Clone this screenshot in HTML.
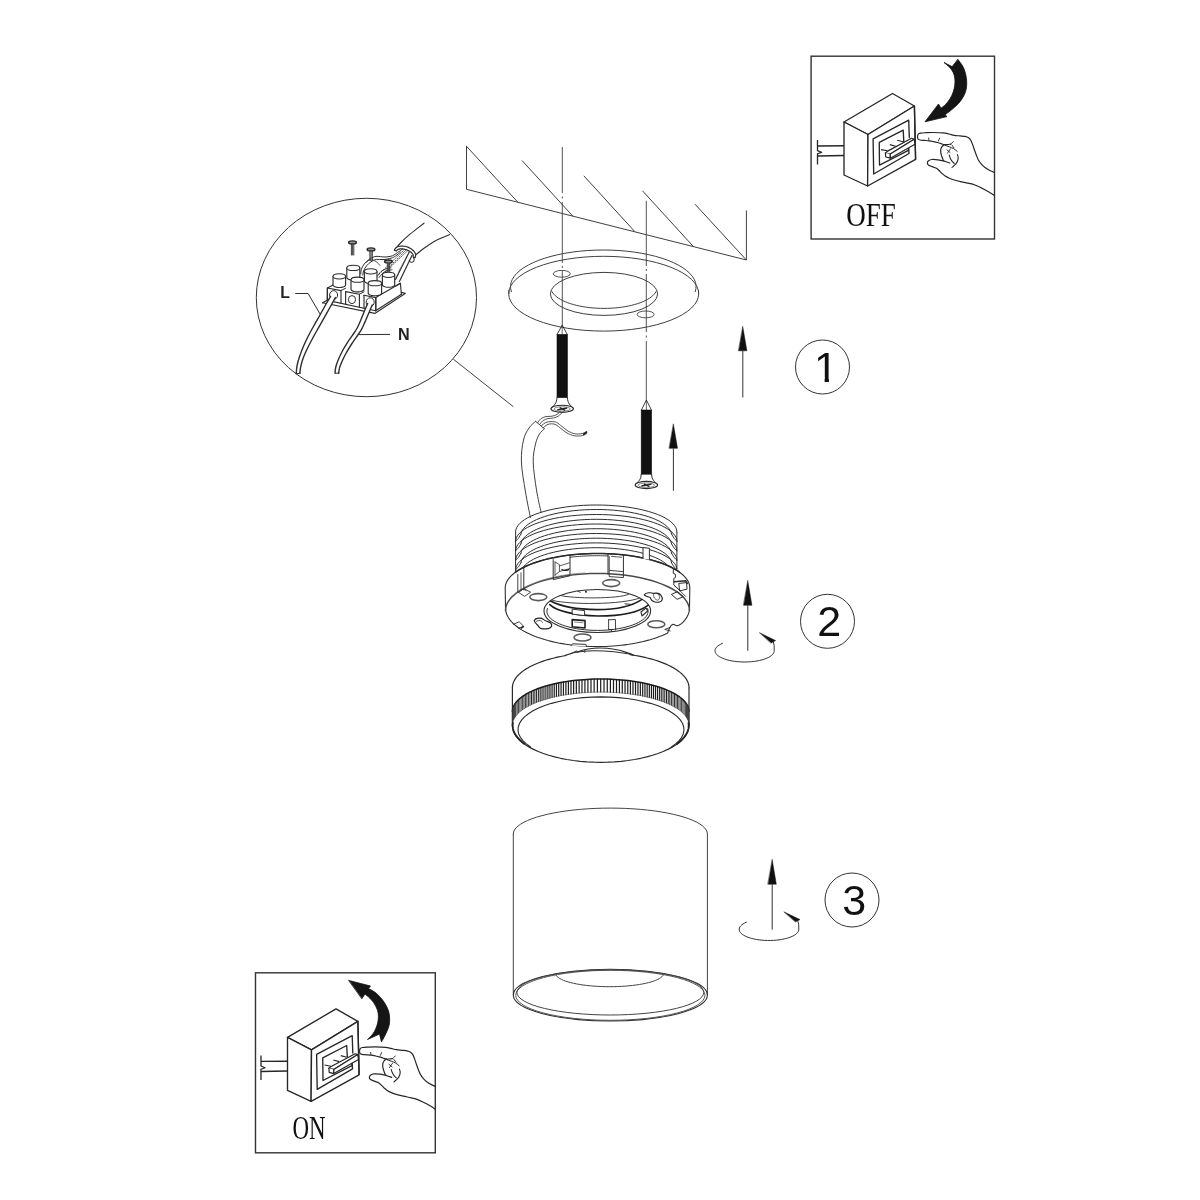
<!DOCTYPE html>
<html lang="en">
<head>
<meta charset="utf-8">
<title>Installation diagram</title>
<style>
html,body{margin:0;padding:0;background:#fff;}
body{width:1200px;height:1200px;overflow:hidden;font-family:"Liberation Sans",sans-serif;}
svg{display:block;will-change:transform;}
</style>
</head>
<body>
<svg width="1200" height="1200" viewBox="0 0 1200 1200">
<rect x="0" y="0" width="1200" height="1200" fill="#ffffff"/>
<path d="M466.5 146.3 L466.5 189.3 L746.4 260 L746.4 210.8" fill="none" stroke="#404040" stroke-width="1" stroke-linejoin="round" stroke-linecap="round" />
<line x1="466.5" y1="146.3" x2="518" y2="202.4" stroke="#404040" stroke-width="1" />
<line x1="522" y1="160.5" x2="572.7" y2="216" stroke="#404040" stroke-width="1" />
<line x1="583.8" y1="175.8" x2="634.6" y2="231.4" stroke="#404040" stroke-width="1" />
<line x1="642.5" y1="190.8" x2="693.5" y2="246.7" stroke="#404040" stroke-width="1" />
<line x1="695" y1="204.2" x2="746.4" y2="260" stroke="#404040" stroke-width="1" />
<line x1="562.3" y1="147" x2="562.3" y2="193" stroke="#404040" stroke-width="0.9" />
<line x1="562.3" y1="196.5" x2="562.3" y2="198.5" stroke="#404040" stroke-width="0.9" />
<line x1="562.3" y1="202" x2="562.3" y2="263" stroke="#404040" stroke-width="0.9" />
<line x1="562.3" y1="266" x2="562.3" y2="268" stroke="#404040" stroke-width="0.9" />
<line x1="562.3" y1="271" x2="562.3" y2="325" stroke="#404040" stroke-width="0.9" />
<line x1="646.3" y1="200.8" x2="646.3" y2="266" stroke="#404040" stroke-width="0.9" />
<line x1="646.3" y1="269" x2="646.3" y2="271" stroke="#404040" stroke-width="0.9" />
<line x1="646.3" y1="274" x2="646.3" y2="332" stroke="#404040" stroke-width="0.9" />
<line x1="646.3" y1="335.5" x2="646.3" y2="337.5" stroke="#404040" stroke-width="0.9" />
<line x1="646.3" y1="341" x2="646.3" y2="400" stroke="#404040" stroke-width="0.9" />
<path d="M511.4 291.69 L510.64 288.58 L510.55 285.45 L511.13 282.33 L512.4 279.24 L514.32 276.21 L516.9 273.25 L520.11 270.38 L523.92 267.64 L528.32 265.04 L533.26 262.59 L538.72 260.32 L544.65 258.24 L551 256.36 L557.74 254.71 L564.82 253.3 L572.17 252.12 L579.75 251.2 L587.5 250.53 L595.37 250.13 L603.3 250 L611.23 250.13 L619.1 250.53 L626.85 251.2 L634.43 252.12 L641.78 253.3 L648.86 254.71 L655.6 256.36 L661.95 258.24 L667.88 260.32 L673.34 262.59 L678.28 265.04 L682.68 267.64 L686.49 270.38 L689.7 273.25 L692.28 276.21 L694.2 279.24 L695.47 282.33 L696.05 285.45 L695.96 288.58 L695.2 291.69" fill="none" stroke="#404040" stroke-width="1" stroke-linejoin="round" stroke-linecap="round" />
<line x1="508.9" y1="290" x2="508.9" y2="294" stroke="#404040" stroke-width="1" />
<line x1="698.5" y1="290" x2="698.5" y2="294" stroke="#404040" stroke-width="1" />
<ellipse cx="603.7" cy="293.7" rx="95" ry="37.4" fill="none" stroke="#404040" stroke-width="1" />
<ellipse cx="604" cy="293.9" rx="53.6" ry="21.5" fill="none" stroke="#404040" stroke-width="1" />
<path d="M656.04 291.61 L655.16 293.01 L654.05 294.38 L652.71 295.72 L651.15 297.02 L649.36 298.28 L647.36 299.48 L645.17 300.63 L642.78 301.71 L640.21 302.73 L637.48 303.68 L634.59 304.54 L631.56 305.33 L628.4 306.04 L625.13 306.66 L621.76 307.18 L618.31 307.62 L614.79 307.96 L611.22 308.2 L607.62 308.35 L604 308.4 L600.38 308.35 L596.78 308.2 L593.21 307.96 L589.69 307.62 L586.24 307.18 L582.87 306.66 L579.6 306.04 L576.44 305.33 L573.41 304.54 L570.52 303.68 L567.79 302.73 L565.22 301.71 L562.83 300.63 L560.64 299.48 L558.64 298.28 L556.85 297.02 L555.29 295.72 L553.95 294.38 L552.84 293.01 L551.96 291.61" fill="none" stroke="#404040" stroke-width="1" stroke-linejoin="round" stroke-linecap="round" />
<ellipse cx="561.8" cy="273.8" rx="8.5" ry="3.4" fill="none" stroke="#404040" stroke-width="0.9" />
<ellipse cx="645.6" cy="314.4" rx="8.5" ry="3.4" fill="none" stroke="#404040" stroke-width="0.9" />
<path d="M557.2 334.4 L562.2 325 L567.2 334.4" fill="none" stroke="#2a2a2a" stroke-width="0.9" stroke-linejoin="round" stroke-linecap="round" />
<line x1="562.2" y1="325" x2="562.2" y2="334.4" stroke="#2a2a2a" stroke-width="0.7" />
<rect x="557" y="334.4" width="10.4" height="63.2" fill="#111" stroke="#111" stroke-width="0.6"/>
<path d="M557 397.6 C556.8 403.6 554.2 405.2 551 408.2" fill="none" stroke="#2a2a2a" stroke-width="1" stroke-linejoin="round" stroke-linecap="round" />
<path d="M567.4 397.6 C567.6 403.6 570.2 405.2 573.4 408.2" fill="none" stroke="#2a2a2a" stroke-width="1" stroke-linejoin="round" stroke-linecap="round" />
<ellipse cx="562.2" cy="408.8" rx="11.2" ry="3.6" fill="none" stroke="#2a2a2a" stroke-width="1.1" />
<ellipse cx="562.2" cy="409" rx="8.2" ry="2.2" fill="none" stroke="#555" stroke-width="0.7" />
<line x1="557.2" y1="409.8" x2="567.2" y2="408" stroke="#222" stroke-width="1.3" />
<line x1="559.7" y1="407.6" x2="565.2" y2="410.4" stroke="#222" stroke-width="1.3" />
<path d="M641.4 410 L646.4 400 L651.4 410" fill="none" stroke="#2a2a2a" stroke-width="0.9" stroke-linejoin="round" stroke-linecap="round" />
<line x1="646.4" y1="400" x2="646.4" y2="410" stroke="#2a2a2a" stroke-width="0.7" />
<rect x="641.2" y="410" width="10.4" height="64.2" fill="#111" stroke="#111" stroke-width="0.6"/>
<path d="M641.2 474.2 C641 480.2 638.4 481.4 635.2 484.4" fill="none" stroke="#2a2a2a" stroke-width="1" stroke-linejoin="round" stroke-linecap="round" />
<path d="M651.6 474.2 C651.8 480.2 654.4 481.4 657.6 484.4" fill="none" stroke="#2a2a2a" stroke-width="1" stroke-linejoin="round" stroke-linecap="round" />
<ellipse cx="646.4" cy="485" rx="11.2" ry="3.6" fill="none" stroke="#2a2a2a" stroke-width="1.1" />
<ellipse cx="646.4" cy="485.2" rx="8.2" ry="2.2" fill="none" stroke="#555" stroke-width="0.7" />
<line x1="641.4" y1="486" x2="651.4" y2="484.2" stroke="#222" stroke-width="1.3" />
<line x1="643.9" y1="483.8" x2="649.4" y2="486.6" stroke="#222" stroke-width="1.3" />
<path d="M742.8 326.7 L746.9 350.8 L738.7 350.8 Z" fill="#111" stroke="#111" stroke-width="0.5" stroke-linejoin="round" stroke-linecap="round" />
<line x1="742.8" y1="350.8" x2="742.8" y2="397.5" stroke="#333" stroke-width="1" />
<path d="M673.4 424.2 L677.5 448.3 L669.3 448.3 Z" fill="#111" stroke="#111" stroke-width="0.5" stroke-linejoin="round" stroke-linecap="round" />
<line x1="673.4" y1="448.3" x2="673.4" y2="490.8" stroke="#333" stroke-width="1" />
<path d="M530.4 517.5 C529.58 513.25 527 501.25 525.5 492 C524 482.75 521.73 470.67 521.4 462 C521.07 453.33 522.23 445.67 523.5 440 C524.77 434.33 526.98 431.12 529 428 C531.02 424.88 534.5 422.42 535.6 421.3" fill="none" stroke="#404040" stroke-width="1" stroke-linejoin="round" stroke-linecap="round" />
<path d="M541 512 C540.25 508.33 537.8 498.33 536.5 490 C535.2 481.67 533.37 469.67 533.2 462 C533.03 454.33 534.45 448.67 535.5 444 C536.55 439.33 538.02 436.53 539.5 434 C540.98 431.47 543.58 429.67 544.4 428.8" fill="none" stroke="#404040" stroke-width="1" stroke-linejoin="round" stroke-linecap="round" />
<line x1="535.6" y1="421.3" x2="544.4" y2="428.8" stroke="#404040" stroke-width="1" />
<path d="M537.5 422.8 C538.08 422.1 539.58 419.63 541 418.6 C542.42 417.57 544.17 417 546 416.6 C547.83 416.2 550.17 416.57 552 416.2 C553.83 415.83 555.58 415.27 557 414.4 C558.42 413.53 559.92 411.57 560.5 411" fill="none" stroke="#404040" stroke-width="0.9" stroke-linejoin="round" stroke-linecap="round" />
<path d="M539.6 424.6 C540.17 423.93 541.6 421.6 543 420.6 C544.4 419.6 546.25 419.03 548 418.6 C549.75 418.17 551.75 418.43 553.5 418 C555.25 417.57 556.98 417 558.5 416 C560.02 415 561.92 412.67 562.6 412" fill="none" stroke="#404040" stroke-width="0.9" stroke-linejoin="round" stroke-linecap="round" />
<path d="M541.3 426 C542 425.43 543.88 423.33 545.5 422.6 C547.12 421.87 549.17 421.63 551 421.6 C552.83 421.57 554.67 421.58 556.5 422.4 C558.33 423.22 560.08 425.07 562 426.5 C563.92 427.93 565.83 429.78 568 431 C570.17 432.22 572.67 433.37 575 433.8 C577.33 434.23 580.17 433.9 582 433.6 C583.83 433.3 585.33 432.27 586 432" fill="none" stroke="#404040" stroke-width="0.9" stroke-linejoin="round" stroke-linecap="round" />
<path d="M543.2 427.8 C543.83 427.3 545.62 425.47 547 424.8 C548.38 424.13 550 423.8 551.5 423.8 C553 423.8 554.42 424 556 424.8 C557.58 425.6 559.17 427.23 561 428.6 C562.83 429.97 564.75 431.8 567 433 C569.25 434.2 571.92 435.37 574.5 435.8 C577.08 436.23 580.48 436 582.5 435.6 C584.52 435.2 585.92 433.77 586.6 433.4" fill="none" stroke="#404040" stroke-width="0.9" stroke-linejoin="round" stroke-linecap="round" />
<line x1="583.2" y1="434.8" x2="587" y2="431.6" stroke="#222" stroke-width="1.8" />
<line x1="453.4" y1="359.2" x2="513.3" y2="406.7" stroke="#404040" stroke-width="1" />
<ellipse cx="366.4" cy="297.5" rx="110.1" ry="99.2" fill="none" stroke="#333" stroke-width="1" />
<path d="M394.4 250.4 C395.42 249.17 397.9 245.7 400.5 243 C403.1 240.3 406.08 237.5 410 234.2 C413.92 230.9 421.67 225.03 424 223.2" fill="none" stroke="#2e2e2e" stroke-width="1.1" stroke-linejoin="round" stroke-linecap="round" />
<path d="M416 254.6 C417.33 253.53 420.67 250.57 424 248.2 C427.33 245.83 431.73 242.67 436 240.4 C440.27 238.13 447.33 235.57 449.6 234.6" fill="none" stroke="#2e2e2e" stroke-width="1.1" stroke-linejoin="round" stroke-linecap="round" />
<g transform="translate(405 253.2) rotate(18)">
<path d="M-10.97 0.46 L-10.99 -0.29 L-10.86 -1.04 L-10.59 -1.77 L-10.19 -2.49 L-9.65 -3.17 L-8.99 -3.8 L-8.21 -4.39 L-7.32 -4.93 L-6.34 -5.39 L-5.28 -5.79 L-4.14 -6.11 L-2.96 -6.36 L-1.73 -6.52 L-0.49 -6.59 L0.77 -6.58 L2.01 -6.49 L3.23 -6.31 L4.4 -6.05 L5.52 -5.71 L6.57 -5.29 L7.53 -4.81 L8.39 -4.27 L9.15 -3.67 L9.78 -3.02 L10.29 -2.33 L10.67 -1.61 L10.9 -0.87 L11 -0.12 L10.95 0.63 L10.76 1.37 L8.75 1.05 L8.8 0.59 L8.75 0.13 L8.59 -0.32 L8.34 -0.77 L8 -1.19 L7.56 -1.6 L7.03 -1.98 L6.43 -2.34 L5.75 -2.66 L5.01 -2.94 L4.2 -3.18 L3.35 -3.38 L2.46 -3.53 L1.55 -3.63 L0.61 -3.69 L-0.33 -3.7 L-1.27 -3.66 L-2.19 -3.56 L-3.09 -3.43 L-3.95 -3.24 L-4.77 -3.01 L-5.53 -2.74 L-6.23 -2.44 L-6.86 -2.09 L-7.41 -1.72 L-7.87 -1.32 L-8.25 -0.9 L-8.53 -0.46 L-8.71 -0.01 L-8.79 0.45 Z" fill="#fff" stroke="#2e2e2e" stroke-width="1.2" stroke-linejoin="round" stroke-linecap="round" />
<path d="M9.6 1.6 q2.4 2.6 0.2 4.6 q-2 1.4 -3.4 -0.6" fill="none" stroke="#2e2e2e" stroke-width="1" stroke-linejoin="round" stroke-linecap="round" />
</g>
<path d="M403 248.8 C402.07 249.43 399.15 251.43 397.4 252.6 C395.65 253.77 394.57 255.07 392.5 255.8 C390.43 256.53 387.75 256.9 385 257 C382.25 257.1 378.58 256.03 376 256.4 C373.42 256.77 371.47 257.93 369.5 259.2 C367.53 260.47 365.57 262.28 364.2 264 C362.83 265.72 361.87 267.83 361.3 269.5 C360.73 271.17 360.88 273.25 360.8 274" fill="none" stroke="#2e2e2e" stroke-width="1" stroke-linejoin="round" stroke-linecap="round" />
<path d="M400.4 252.2 C399.6 252.83 397.13 255 395.6 256 C394.07 257 393.3 257.6 391.2 258.2 C389.1 258.8 385.47 259.4 383 259.6 C380.53 259.8 378.4 259.03 376.4 259.4 C374.4 259.77 372.63 260.73 371 261.8 C369.37 262.87 367.83 264.3 366.6 265.8 C365.37 267.3 364.23 269.27 363.6 270.8 C362.97 272.33 362.93 274.3 362.8 275" fill="none" stroke="#2e2e2e" stroke-width="1" stroke-linejoin="round" stroke-linecap="round" />
<path d="M366.5 262.6 C367.08 262.13 368.42 259.98 370 259.8 C371.58 259.62 374.33 260.55 376 261.5 C377.67 262.45 379.33 264.83 380 265.5" fill="none" stroke="#2e2e2e" stroke-width="0.8" stroke-linejoin="round" stroke-linecap="round" />
<line x1="403.4" y1="250.6" x2="378.6" y2="274.6" stroke="#2e2e2e" stroke-width="1" stroke-dasharray="1.6 1.1"/>
<line x1="405.6" y1="250.4" x2="384" y2="272.6" stroke="#2e2e2e" stroke-width="1" stroke-dasharray="1.6 1.1"/>
<line x1="407.6" y1="250.8" x2="391" y2="266.4" stroke="#2e2e2e" stroke-width="1" stroke-dasharray="1.6 1.1"/>
<line x1="409.6" y1="251.2" x2="395.2" y2="280" stroke="#2e2e2e" stroke-width="1.2" />
<line x1="412.2" y1="255" x2="399.2" y2="282" stroke="#2e2e2e" stroke-width="1.2" />
<line x1="406.2" y1="258" x2="398.6" y2="271.6" stroke="#555" stroke-width="0.6" />
<path d="M377.6 276 C378.17 275.25 379.6 272.7 381 271.5 C382.4 270.3 384.33 269.42 386 268.8 C387.67 268.18 390.17 267.97 391 267.8" fill="none" stroke="#2e2e2e" stroke-width="0.9" stroke-linejoin="round" stroke-linecap="round" />
<path d="M379 277.6 C379.57 276.9 381.07 274.53 382.4 273.4 C383.73 272.27 385.4 271.4 387 270.8 C388.6 270.2 391.17 269.97 392 269.8" fill="none" stroke="#2e2e2e" stroke-width="0.9" stroke-linejoin="round" stroke-linecap="round" />
<path d="M322.6 302.8 L327.2 300.2 L327.4 288 L335 284" fill="none" stroke="#2e2e2e" stroke-width="1.15" stroke-linejoin="round" stroke-linecap="round" />
<path d="M322.6 302.8 L374.8 313.4 L405.2 293.4 L401.4 292.4" fill="none" stroke="#2e2e2e" stroke-width="1.15" stroke-linejoin="round" stroke-linecap="round" />
<path d="M327.4 300.4 L375.6 310.8 L401.4 294.2" fill="none" stroke="#2e2e2e" stroke-width="1.15" stroke-linejoin="round" stroke-linecap="round" />
<path d="M327.4 288 L327.4 300.4" fill="none" stroke="#2e2e2e" stroke-width="1.15" stroke-linejoin="round" stroke-linecap="round" />
<path d="M327.4 288 L341 290.6 L341 303.2" fill="none" stroke="#2e2e2e" stroke-width="1.15" stroke-linejoin="round" stroke-linecap="round" />
<path d="M345.6 291.6 L345.6 304.2" fill="none" stroke="#2e2e2e" stroke-width="1.15" stroke-linejoin="round" stroke-linecap="round" />
<path d="M345.6 291.6 L359.4 294.2 L359.4 307.2" fill="none" stroke="#2e2e2e" stroke-width="1.15" stroke-linejoin="round" stroke-linecap="round" />
<path d="M364 295.2 L364 308.2" fill="none" stroke="#2e2e2e" stroke-width="1.15" stroke-linejoin="round" stroke-linecap="round" />
<path d="M364 295.2 L375.8 297.6 L375.8 310.8" fill="none" stroke="#2e2e2e" stroke-width="1.15" stroke-linejoin="round" stroke-linecap="round" />
<path d="M341 290.6 L345.6 288.2" fill="none" stroke="#2e2e2e" stroke-width="1" stroke-linejoin="round" stroke-linecap="round" />
<path d="M359.4 294.2 L364 291.8" fill="none" stroke="#2e2e2e" stroke-width="1" stroke-linejoin="round" stroke-linecap="round" />
<path d="M375.8 297.6 L400.4 283.2 L401.4 294.2" fill="none" stroke="#2e2e2e" stroke-width="1.15" stroke-linejoin="round" stroke-linecap="round" />
<path d="M375.8 310.8 L375.8 297.6" fill="none" stroke="#2e2e2e" stroke-width="1.15" stroke-linejoin="round" stroke-linecap="round" />
<line x1="395.4" y1="286.2" x2="400.4" y2="283.2" stroke="#2e2e2e" stroke-width="1.15" />
<path d="M335 284 L341.5 279" fill="none" stroke="#2e2e2e" stroke-width="0.8" stroke-linejoin="round" stroke-linecap="round" />
<path d="M346.8 267.9 L346.8 277.5 L346.8 277.5 L347.02 278.17 L347.67 278.8 L348.7 279.34 L350.05 279.75 L351.62 280.01 L353.3 280.1 L354.98 280.01 L356.55 279.75 L357.9 279.34 L358.93 278.8 L359.58 278.17 L359.8 277.5 L359.8 267.9 Z" fill="#fff" stroke="#2e2e2e" stroke-width="1.15" stroke-linejoin="round" stroke-linecap="round" />
<ellipse cx="353.3" cy="267.9" rx="6.5" ry="2.6" fill="#fff" stroke="#2e2e2e" stroke-width="1.05" />
<path d="M364.4 271.3 L364.4 281 L364.4 281 L364.61 281.67 L365.24 282.3 L366.25 282.84 L367.55 283.25 L369.07 283.51 L370.7 283.6 L372.33 283.51 L373.85 283.25 L375.15 282.84 L376.16 282.3 L376.79 281.67 L377 281 L377 271.3 Z" fill="#fff" stroke="#2e2e2e" stroke-width="1.15" stroke-linejoin="round" stroke-linecap="round" />
<ellipse cx="370.7" cy="271.3" rx="6.3" ry="2.6" fill="#fff" stroke="#2e2e2e" stroke-width="1.05" />
<path d="M382.4 274.8 L382.4 284.7 L382.4 284.7 L382.61 285.37 L383.22 286 L384.2 286.54 L385.47 286.95 L386.96 287.21 L388.55 287.3 L390.14 287.21 L391.62 286.95 L392.9 286.54 L393.88 286 L394.49 285.37 L394.7 284.7 L394.7 274.8 Z" fill="#fff" stroke="#2e2e2e" stroke-width="1.15" stroke-linejoin="round" stroke-linecap="round" />
<ellipse cx="388.55" cy="274.8" rx="6.15" ry="2.6" fill="#fff" stroke="#2e2e2e" stroke-width="1.05" />
<path d="M333 276.3 L333 284.9 L333 284.9 L333.21 285.57 L333.84 286.2 L334.85 286.74 L336.15 287.15 L337.67 287.41 L339.3 287.5 L340.93 287.41 L342.45 287.15 L343.75 286.74 L344.76 286.2 L345.39 285.57 L345.6 284.9 L345.6 276.3 Z" fill="#fff" stroke="#2e2e2e" stroke-width="1.15" stroke-linejoin="round" stroke-linecap="round" />
<ellipse cx="339.3" cy="276.3" rx="6.3" ry="2.6" fill="#fff" stroke="#2e2e2e" stroke-width="1.05" />
<path d="M351 279.7 L351 289.3 L351 289.3 L351.22 289.97 L351.87 290.6 L352.9 291.14 L354.25 291.55 L355.82 291.81 L357.5 291.9 L359.18 291.81 L360.75 291.55 L362.1 291.14 L363.13 290.6 L363.78 289.97 L364 289.3 L364 279.7 Z" fill="#fff" stroke="#2e2e2e" stroke-width="1.15" stroke-linejoin="round" stroke-linecap="round" />
<ellipse cx="357.5" cy="279.7" rx="6.5" ry="2.6" fill="#fff" stroke="#2e2e2e" stroke-width="1.05" />
<path d="M368.2 283.2 L368.2 293.1 L368.2 293.1 L368.43 293.77 L369.1 294.4 L370.16 294.94 L371.55 295.35 L373.17 295.61 L374.9 295.7 L376.63 295.61 L378.25 295.35 L379.64 294.94 L380.7 294.4 L381.37 293.77 L381.6 293.1 L381.6 283.2 Z" fill="#fff" stroke="#2e2e2e" stroke-width="1.15" stroke-linejoin="round" stroke-linecap="round" />
<ellipse cx="374.9" cy="283.2" rx="6.7" ry="2.6" fill="#fff" stroke="#2e2e2e" stroke-width="1.05" />
<ellipse cx="333.6" cy="295" rx="4" ry="4.4" fill="#fff" stroke="#2e2e2e" stroke-width="1" />
<ellipse cx="352" cy="299.6" rx="3.6" ry="4" fill="#fff" stroke="#2e2e2e" stroke-width="1" />
<ellipse cx="370.2" cy="302.2" rx="4" ry="4.4" fill="#fff" stroke="#2e2e2e" stroke-width="1" />
<ellipse cx="352.5" cy="242.4" rx="3.9" ry="1.6" fill="#999" stroke="#222" stroke-width="1.3" />
<line x1="351.4" y1="243.9" x2="351.4" y2="255.4" stroke="#222" stroke-width="0.9" />
<line x1="353.8" y1="243.9" x2="353.8" y2="255.4" stroke="#222" stroke-width="0.9" />
<line x1="352.5" y1="243.9" x2="352.5" y2="255.4" stroke="#555" stroke-width="1.3" />
<ellipse cx="371" cy="249.4" rx="3.9" ry="1.6" fill="#999" stroke="#222" stroke-width="1.3" />
<line x1="369.9" y1="250.9" x2="369.9" y2="261" stroke="#222" stroke-width="0.9" />
<line x1="372.3" y1="250.9" x2="372.3" y2="261" stroke="#222" stroke-width="0.9" />
<line x1="371" y1="250.9" x2="371" y2="261" stroke="#555" stroke-width="1.3" />
<ellipse cx="388.4" cy="261.6" rx="3.9" ry="1.6" fill="#999" stroke="#222" stroke-width="1.3" />
<line x1="387.3" y1="263.1" x2="387.3" y2="272" stroke="#222" stroke-width="0.9" />
<line x1="389.7" y1="263.1" x2="389.7" y2="272" stroke="#222" stroke-width="0.9" />
<line x1="388.4" y1="263.1" x2="388.4" y2="272" stroke="#555" stroke-width="1.3" />
<path d="M330.6 296.4 C329.75 297.83 327.27 301.9 325.5 305 C323.73 308.1 321.83 311.73 320 315 C318.17 318.27 316.37 321.27 314.5 324.6 C312.63 327.93 310.62 331.43 308.8 335 C306.98 338.57 305.17 342.33 303.6 346 C302.03 349.67 300.5 353.67 299.4 357 C298.3 360.33 297.53 363.2 297 366 C296.47 368.8 296.33 372.5 296.2 373.8 L299.8 373.2 C299.97 372.07 300.23 368.93 300.8 366.4 C301.37 363.87 302.07 361.07 303.2 358 C304.33 354.93 305.97 351.4 307.6 348 C309.23 344.6 311.17 341 313 337.6 C314.83 334.2 316.7 330.97 318.6 327.6 C320.5 324.23 322.47 320.83 324.4 317.4 C326.33 313.97 328.37 310.3 330.2 307 C332.03 303.7 334.53 299.17 335.4 297.6 Z" fill="#fff" stroke="#fff" stroke-width="0.1" stroke-linejoin="round" stroke-linecap="round" />
<path d="M330.6 296.4 C329.75 297.83 327.27 301.9 325.5 305 C323.73 308.1 321.83 311.73 320 315 C318.17 318.27 316.37 321.27 314.5 324.6 C312.63 327.93 310.62 331.43 308.8 335 C306.98 338.57 305.17 342.33 303.6 346 C302.03 349.67 300.5 353.67 299.4 357 C298.3 360.33 297.53 363.2 297 366 C296.47 368.8 296.33 372.5 296.2 373.8" fill="none" stroke="#2e2e2e" stroke-width="1.4" stroke-linejoin="round" stroke-linecap="round" />
<path d="M335.4 297.6 C334.53 299.17 332.03 303.7 330.2 307 C328.37 310.3 326.33 313.97 324.4 317.4 C322.47 320.83 320.5 324.23 318.6 327.6 C316.7 330.97 314.83 334.2 313 337.6 C311.17 341 309.23 344.6 307.6 348 C305.97 351.4 304.33 354.93 303.2 358 C302.07 361.07 301.37 363.87 300.8 366.4 C300.23 368.93 299.97 372.07 299.8 373.2" fill="none" stroke="#2e2e2e" stroke-width="1.4" stroke-linejoin="round" stroke-linecap="round" />
<line x1="296.2" y1="373.8" x2="300.6" y2="373.2" stroke="#2e2e2e" stroke-width="1" />
<path d="M367.6 303.6 C367 305 365.2 309.1 364 312 C362.8 314.9 361.53 318.33 360.4 321 C359.27 323.67 358.53 325.6 357.2 328 C355.87 330.4 354.03 332.97 352.4 335.4 C350.77 337.83 349.07 340 347.4 342.6 C345.73 345.2 343.93 348.1 342.4 351 C340.87 353.9 339.3 357.33 338.2 360 C337.1 362.67 336.33 364.8 335.8 367 C335.27 369.2 335.13 372.17 335 373.2 L338.6 373.2 C338.77 372.27 339 369.63 339.6 367.6 C340.2 365.57 341.1 363.43 342.2 361 C343.3 358.57 344.73 355.67 346.2 353 C347.67 350.33 349.33 347.6 351 345 C352.67 342.4 354.47 339.97 356.2 337.4 C357.93 334.83 359.97 332.1 361.4 329.6 C362.83 327.1 363.63 325 364.8 322.4 C365.97 319.8 367.17 316.9 368.4 314 C369.63 311.1 371.57 306.5 372.2 305 Z" fill="#fff" stroke="#fff" stroke-width="0.1" stroke-linejoin="round" stroke-linecap="round" />
<path d="M367.6 303.6 C367 305 365.2 309.1 364 312 C362.8 314.9 361.53 318.33 360.4 321 C359.27 323.67 358.53 325.6 357.2 328 C355.87 330.4 354.03 332.97 352.4 335.4 C350.77 337.83 349.07 340 347.4 342.6 C345.73 345.2 343.93 348.1 342.4 351 C340.87 353.9 339.3 357.33 338.2 360 C337.1 362.67 336.33 364.8 335.8 367 C335.27 369.2 335.13 372.17 335 373.2" fill="none" stroke="#2e2e2e" stroke-width="1.4" stroke-linejoin="round" stroke-linecap="round" />
<path d="M372.2 305 C371.57 306.5 369.63 311.1 368.4 314 C367.17 316.9 365.97 319.8 364.8 322.4 C363.63 325 362.83 327.1 361.4 329.6 C359.97 332.1 357.93 334.83 356.2 337.4 C354.47 339.97 352.67 342.4 351 345 C349.33 347.6 347.67 350.33 346.2 353 C344.73 355.67 343.3 358.57 342.2 361 C341.1 363.43 340.2 365.57 339.6 367.6 C339 369.63 338.77 372.27 338.6 373.2" fill="none" stroke="#2e2e2e" stroke-width="1.4" stroke-linejoin="round" stroke-linecap="round" />
<line x1="335" y1="373.2" x2="339.4" y2="373.2" stroke="#2e2e2e" stroke-width="1" />
<text x="280.3" y="298.2" font-family="'Liberation Sans', sans-serif" font-size="15.8" font-weight="bold" text-anchor="start" fill="#222" >L</text>
<path d="M295.6 293.5 L308.1 293.5 L320.4 314.6" fill="none" stroke="#2e2e2e" stroke-width="1" stroke-linejoin="round" stroke-linecap="round" />
<text x="398.1" y="340.3" font-family="'Liberation Sans', sans-serif" font-size="16.2" font-weight="bold" text-anchor="start" fill="#222" >N</text>
<line x1="358.8" y1="334.6" x2="390" y2="334.4" stroke="#2e2e2e" stroke-width="1" />
<path d="M515.6 532 L515.85 529.88 L516.59 527.78 L517.83 525.7 L519.55 523.66 L521.74 521.67 L524.39 519.74 L527.48 517.89 L531 516.13 L534.92 514.46 L539.22 512.91 L543.87 511.47 L548.85 510.16 L554.11 508.98 L559.64 507.94 L565.39 507.06 L571.33 506.32 L577.42 505.75 L583.63 505.33 L589.92 505.08 L596.25 505 L602.58 505.08 L608.87 505.33 L615.08 505.75 L621.17 506.32 L627.11 507.06 L632.86 507.94 L638.39 508.98 L643.65 510.16 L648.63 511.47 L653.28 512.91 L657.58 514.46 L661.5 516.13 L665.02 517.89 L668.11 519.74 L670.76 521.67 L672.95 523.66 L674.67 525.7 L675.91 527.78 L676.65 529.88 L676.9 532" fill="none" stroke="#2e2e2e" stroke-width="1" stroke-linejoin="round" stroke-linecap="round" />
<path d="M520.9 534.14 L521.42 532.17 L522.37 530.23 L523.74 528.31 L525.53 526.44 L527.73 524.61 L530.32 522.86 L533.3 521.17 L536.63 519.56 L540.31 518.05 L544.31 516.64 L548.61 515.34 L553.19 514.15 L558.01 513.09 L563.06 512.15 L568.29 511.35 L573.69 510.69 L579.21 510.17 L584.84 509.8 L590.53 509.57 L596.25 509.5 L601.97 509.57 L607.66 509.8 L613.29 510.17 L618.81 510.69 L624.21 511.35 L629.44 512.15 L634.49 513.09 L639.31 514.15 L643.89 515.34 L648.19 516.64 L652.19 518.05 L655.87 519.56 L659.2 521.17 L662.18 522.86 L664.77 524.61 L666.97 526.44 L668.76 528.31 L670.13 530.23 L671.08 532.17 L671.6 534.14" fill="none" stroke="#2e2e2e" stroke-width="1" stroke-linejoin="round" stroke-linecap="round" />
<path d="M520.91 534.14 Q518.6 539.1 515.9 541" fill="none" stroke="#2e2e2e" stroke-width="0.9" stroke-linejoin="round" stroke-linecap="round" />
<path d="M671.59 534.14 Q673.9 539.1 676.6 541" fill="none" stroke="#2e2e2e" stroke-width="0.9" stroke-linejoin="round" stroke-linecap="round" />
<path d="M515.6 541.5 L515.85 539.38 L516.59 537.28 L517.83 535.2 L519.55 533.16 L521.74 531.17 L524.39 529.24 L527.48 527.39 L531 525.63 L534.92 523.96 L539.22 522.41 L543.87 520.97 L548.85 519.66 L554.11 518.48 L559.64 517.44 L565.39 516.56 L571.33 515.82 L577.42 515.25 L583.63 514.83 L589.92 514.58 L596.25 514.5 L602.58 514.58 L608.87 514.83 L615.08 515.25 L621.17 515.82 L627.11 516.56 L632.86 517.44 L638.39 518.48 L643.65 519.66 L648.63 520.97 L653.28 522.41 L657.58 523.96 L661.5 525.63 L665.02 527.39 L668.11 529.24 L670.76 531.17 L672.95 533.16 L674.67 535.2 L675.91 537.28 L676.65 539.38 L676.9 541.5" fill="none" stroke="#2e2e2e" stroke-width="1" stroke-linejoin="round" stroke-linecap="round" />
<path d="M520.9 543.94 L521.42 541.97 L522.37 540.03 L523.74 538.11 L525.53 536.24 L527.73 534.41 L530.32 532.66 L533.3 530.97 L536.63 529.36 L540.31 527.85 L544.31 526.44 L548.61 525.14 L553.19 523.95 L558.01 522.89 L563.06 521.95 L568.29 521.15 L573.69 520.49 L579.21 519.97 L584.84 519.6 L590.53 519.37 L596.25 519.3 L601.97 519.37 L607.66 519.6 L613.29 519.97 L618.81 520.49 L624.21 521.15 L629.44 521.95 L634.49 522.89 L639.31 523.95 L643.89 525.14 L648.19 526.44 L652.19 527.85 L655.87 529.36 L659.2 530.97 L662.18 532.66 L664.77 534.41 L666.97 536.24 L668.76 538.11 L670.13 540.03 L671.08 541.97 L671.6 543.94" fill="none" stroke="#2e2e2e" stroke-width="1" stroke-linejoin="round" stroke-linecap="round" />
<path d="M520.91 543.94 Q518.6 548.9 515.9 550.5" fill="none" stroke="#2e2e2e" stroke-width="0.9" stroke-linejoin="round" stroke-linecap="round" />
<path d="M671.59 543.94 Q673.9 548.9 676.6 550.5" fill="none" stroke="#2e2e2e" stroke-width="0.9" stroke-linejoin="round" stroke-linecap="round" />
<path d="M515.6 551 L515.85 548.88 L516.59 546.78 L517.83 544.7 L519.55 542.66 L521.74 540.67 L524.39 538.74 L527.48 536.89 L531 535.13 L534.92 533.46 L539.22 531.91 L543.87 530.47 L548.85 529.16 L554.11 527.98 L559.64 526.94 L565.39 526.06 L571.33 525.32 L577.42 524.75 L583.63 524.33 L589.92 524.08 L596.25 524 L602.58 524.08 L608.87 524.33 L615.08 524.75 L621.17 525.32 L627.11 526.06 L632.86 526.94 L638.39 527.98 L643.65 529.16 L648.63 530.47 L653.28 531.91 L657.58 533.46 L661.5 535.13 L665.02 536.89 L668.11 538.74 L670.76 540.67 L672.95 542.66 L674.67 544.7 L675.91 546.78 L676.65 548.88 L676.9 551" fill="none" stroke="#2e2e2e" stroke-width="1" stroke-linejoin="round" stroke-linecap="round" />
<path d="M520.9 553.34 L521.42 551.37 L522.37 549.43 L523.74 547.51 L525.53 545.64 L527.73 543.81 L530.32 542.06 L533.3 540.37 L536.63 538.76 L540.31 537.25 L544.31 535.84 L548.61 534.54 L553.19 533.35 L558.01 532.29 L563.06 531.35 L568.29 530.55 L573.69 529.89 L579.21 529.37 L584.84 529 L590.53 528.77 L596.25 528.7 L601.97 528.77 L607.66 529 L613.29 529.37 L618.81 529.89 L624.21 530.55 L629.44 531.35 L634.49 532.29 L639.31 533.35 L643.89 534.54 L648.19 535.84 L652.19 537.25 L655.87 538.76 L659.2 540.37 L662.18 542.06 L664.77 543.81 L666.97 545.64 L668.76 547.51 L670.13 549.43 L671.08 551.37 L671.6 553.34" fill="none" stroke="#2e2e2e" stroke-width="1" stroke-linejoin="round" stroke-linecap="round" />
<path d="M520.91 553.34 Q518.6 558.3 515.9 560" fill="none" stroke="#2e2e2e" stroke-width="0.9" stroke-linejoin="round" stroke-linecap="round" />
<path d="M671.59 553.34 Q673.9 558.3 676.6 560" fill="none" stroke="#2e2e2e" stroke-width="0.9" stroke-linejoin="round" stroke-linecap="round" />
<path d="M515.6 560.5 L515.85 558.38 L516.59 556.28 L517.83 554.2 L519.55 552.16 L521.74 550.17 L524.39 548.24 L527.48 546.39 L531 544.63 L534.92 542.96 L539.22 541.41 L543.87 539.97 L548.85 538.66 L554.11 537.48 L559.64 536.44 L565.39 535.56 L571.33 534.82 L577.42 534.25 L583.63 533.83 L589.92 533.58 L596.25 533.5 L602.58 533.58 L608.87 533.83 L615.08 534.25 L621.17 534.82 L627.11 535.56 L632.86 536.44 L638.39 537.48 L643.65 538.66 L648.63 539.97 L653.28 541.41 L657.58 542.96 L661.5 544.63 L665.02 546.39 L668.11 548.24 L670.76 550.17 L672.95 552.16 L674.67 554.2 L675.91 556.28 L676.65 558.38 L676.9 560.5" fill="none" stroke="#2e2e2e" stroke-width="1" stroke-linejoin="round" stroke-linecap="round" />
<path d="M520.9 562.84 L521.42 560.87 L522.37 558.93 L523.74 557.01 L525.53 555.14 L527.73 553.31 L530.32 551.56 L533.3 549.87 L536.63 548.26 L540.31 546.75 L544.31 545.34 L548.61 544.04 L553.19 542.85 L558.01 541.79 L563.06 540.85 L568.29 540.05 L573.69 539.39 L579.21 538.87 L584.84 538.5 L590.53 538.27 L596.25 538.2 L601.97 538.27 L607.66 538.5 L613.29 538.87 L618.81 539.39 L624.21 540.05 L629.44 540.85 L634.49 541.79 L639.31 542.85 L643.89 544.04 L648.19 545.34 L652.19 546.75 L655.87 548.26 L659.2 549.87 L662.18 551.56 L664.77 553.31 L666.97 555.14 L668.76 557.01 L670.13 558.93 L671.08 560.87 L671.6 562.84" fill="none" stroke="#2e2e2e" stroke-width="1" stroke-linejoin="round" stroke-linecap="round" />
<path d="M520.91 562.84 Q518.6 567.8 515.9 569.4" fill="none" stroke="#2e2e2e" stroke-width="0.9" stroke-linejoin="round" stroke-linecap="round" />
<path d="M671.59 562.84 Q673.9 567.8 676.6 569.4" fill="none" stroke="#2e2e2e" stroke-width="0.9" stroke-linejoin="round" stroke-linecap="round" />
<path d="M515.6 569.9 L515.85 567.78 L516.59 565.68 L517.83 563.6 L519.55 561.56 L521.74 559.57 L524.39 557.64 L527.48 555.79 L531 554.03 L534.92 552.36 L539.22 550.81 L543.87 549.37 L548.85 548.06 L554.11 546.88 L559.64 545.84 L565.39 544.96 L571.33 544.22 L577.42 543.65 L583.63 543.23 L589.92 542.98 L596.25 542.9 L602.58 542.98 L608.87 543.23 L615.08 543.65 L621.17 544.22 L627.11 544.96 L632.86 545.84 L638.39 546.88 L643.65 548.06 L648.63 549.37 L653.28 550.81 L657.58 552.36 L661.5 554.03 L665.02 555.79 L668.11 557.64 L670.76 559.57 L672.95 561.56 L674.67 563.6 L675.91 565.68 L676.65 567.78 L676.9 569.9" fill="none" stroke="#2e2e2e" stroke-width="1" stroke-linejoin="round" stroke-linecap="round" />
<path d="M520.9 572.34 L521.42 570.37 L522.37 568.43 L523.74 566.51 L525.53 564.64 L527.73 562.81 L530.32 561.06 L533.3 559.37 L536.63 557.76 L540.31 556.25 L544.31 554.84 L548.61 553.54 L553.19 552.35 L558.01 551.29 L563.06 550.35 L568.29 549.55 L573.69 548.89 L579.21 548.37 L584.84 548 L590.53 547.77 L596.25 547.7 L601.97 547.77 L607.66 548 L613.29 548.37 L618.81 548.89 L624.21 549.55 L629.44 550.35 L634.49 551.29 L639.31 552.35 L643.89 553.54 L648.19 554.84 L652.19 556.25 L655.87 557.76 L659.2 559.37 L662.18 561.06 L664.77 562.81 L666.97 564.64 L668.76 566.51 L670.13 568.43 L671.08 570.37 L671.6 572.34" fill="none" stroke="#2e2e2e" stroke-width="1" stroke-linejoin="round" stroke-linecap="round" />
<path d="M520.91 572.34 Q518.6 577.3 515.9 578.9" fill="none" stroke="#2e2e2e" stroke-width="0.9" stroke-linejoin="round" stroke-linecap="round" />
<path d="M671.59 572.34 Q673.9 577.3 676.6 578.9" fill="none" stroke="#2e2e2e" stroke-width="0.9" stroke-linejoin="round" stroke-linecap="round" />
<line x1="515.6" y1="532" x2="515.6" y2="572" stroke="#2e2e2e" stroke-width="1" />
<line x1="676.9" y1="532" x2="676.9" y2="569" stroke="#2e2e2e" stroke-width="1" />
<path d="M505.2 588 L505.33 586.19 L505.71 584.39 L506.34 582.6 L507.22 580.83 L508.35 579.07 L509.72 577.34 L511.33 575.64 L513.18 573.97 L515.26 572.34 L517.57 570.75 L520.09 569.21 L522.83 567.72 L525.77 566.29 L528.91 564.91 L532.23 563.6 L535.74 562.36 L539.41 561.19 L543.25 560.09 L547.23 559.07 L551.35 558.12 L555.6 557.26 L559.96 556.48 L564.42 555.79 L568.98 555.19 L573.61 554.68 L578.31 554.25 L583.06 553.92 L587.85 553.69 L592.67 553.55 L597.5 553.5 L602.33 553.55 L607.15 553.69 L611.94 553.92 L616.69 554.25 L621.39 554.68 L626.02 555.19 L630.58 555.79 L635.04 556.48 L639.4 557.26 L643.65 558.12 L647.77 559.07 L651.75 560.09 L655.59 561.19 L659.26 562.36 L662.77 563.6 L666.09 564.91 L669.23 566.29 L672.17 567.72 L674.91 569.21 L677.43 570.75 L679.74 572.34 L681.82 573.97 L683.67 575.64 L685.28 577.34 L686.65 579.07 L687.78 580.83 L688.66 582.6 L689.29 584.39 L689.67 586.19 L689.8 588 L689.5 608 L689.5 608 L689.42 609.58 L689.19 611.16 L688.8 612.74 L688.26 614.3 L687.57 615.86 L686.73 617.4 L685.73 618.93 L684.59 620.44 L683.3 621.93 L681.87 623.39 L679.3 625 L676.7 625.7 L673.3 624.3 L671.3 625.3 L670 627.3 L668.2 631 L667.77 632.91 L665.12 634.18 L662.33 635.39 L659.43 636.54 L656.41 637.65 L653.27 638.7 L650.03 639.69 L646.69 640.62 L643.26 641.49 L639.74 642.29 L636.14 643.03 L632.47 643.7 L628.73 644.31 L624.93 644.84 L621.08 645.31 L617.18 645.71 L613.25 646.03 L609.29 646.28 L605.3 646.46 L601.3 646.57 L597.29 646.6 L593.29 646.56 L589.29 646.45 L585.3 646.26 L581.34 646 L577.41 645.67 L573.52 645.27 L569.68 644.79 L565.88 644.25 L562.15 643.64 L558.48 642.96 L554.89 642.21 L551.38 641.4 L547.96 640.53 L544.63 639.59 L541.4 638.59 L538.28 637.54 L535.27 636.43 L532.37 635.26 L529.6 634.05 L526.96 632.78 L524.46 631.47 L522.09 630.11 L519.87 628.71 L517.79 627.27 L515.87 625.8 L514.1 624.29 L512.48 622.75 L511.03 621.18 L509.75 619.59 L508.63 617.98 L507.67 616.34 L506.89 614.69 L506.28 613.03 L505.85 611.36 L505.59 609.68 L505.5 608 Z" fill="#fff" stroke="#2e2e2e" stroke-width="1.1" stroke-linejoin="round" stroke-linecap="round" />
<path d="M515.26 572.34 L517.69 570.67 L520.35 569.06 L523.26 567.5 L526.38 566.01 L529.72 564.58 L533.27 563.22 L537.01 561.94 L540.93 560.74 L545.02 559.62 L549.27 558.58 L553.67 557.64 L558.2 556.78 L562.85 556.02 L567.6 555.36 L572.45 554.8 L577.37 554.33 L582.35 553.97 L587.37 553.71 L592.43 553.55 L597.5 553.5 L602.57 553.55 L607.63 553.71 L612.65 553.97 L617.63 554.33 L622.55 554.8 L627.4 555.36 L632.15 556.02 L636.8 556.78 L641.33 557.64 L645.73 558.58 L649.98 559.62 L654.07 560.74 L657.99 561.94 L661.73 563.22 L665.28 564.58 L668.62 566.01 L671.74 567.5 L674.65 569.06 L677.31 570.67 L679.74 572.34" fill="none" stroke="#2a2a2a" stroke-width="1.5" stroke-linejoin="round" stroke-linecap="round" />
<path d="M505.5 610.5 L505.78 607.6 L506.63 604.71 L508.04 601.86 L510 599.07 L512.5 596.34 L515.53 593.7 L519.06 591.17 L523.07 588.75 L527.54 586.47 L532.45 584.34 L537.75 582.36 L543.42 580.57 L549.43 578.95 L555.73 577.53 L562.29 576.32 L569.07 575.31 L576.02 574.52 L583.11 573.96 L590.28 573.61 L597.5 573.5 L604.72 573.61 L611.89 573.96 L618.98 574.52 L625.93 575.31 L632.71 576.32 L639.27 577.53 L645.57 578.95 L651.58 580.57 L657.25 582.36 L662.55 584.34 L667.46 586.47 L671.93 588.75 L675.94 591.17 L679.47 593.7 L682.5 596.34 L685 599.07 L686.96 601.86 L688.37 604.71 L689.22 607.6 L689.5 610.5" fill="none" stroke="#4a4a4a" stroke-width="1.5" stroke-linejoin="round" stroke-linecap="round" />
<path d="M515.03 593.79 L516.01 592.97 L517.04 592.16 L518.12 591.35 L519.25 590.56 L520.43 589.78 L521.66 589.02 L522.93 588.26 L524.25 587.52 L525.62 586.79 L527.03 586.08 L528.48 585.38 L529.98 584.7 L531.52 584.03 L533.1 583.37 L534.72 582.73 L536.37 582.11 L538.07 581.51 L539.8 580.92 L541.57 580.35 L543.37 579.8 L545.21 579.26 L547.08 578.75 L548.97 578.25 L550.9 577.78 L552.86 577.32 L554.85 576.88 L556.86 576.46 L558.9 576.07 L560.96 575.69 L563.04 575.33 L565.15 575 L567.27 574.68 L569.42 574.39 L571.58 574.12 L573.76 573.87 L575.95 573.64 L578.15 573.44 L580.37 573.26 L582.6 573.1 L584.84 572.96" fill="none" stroke="#777" stroke-width="0.7" stroke-linejoin="round" stroke-linecap="round" />
<path d="M570 557.27 L571.9 557.05 L573.8 556.86 L575.7 556.68 L577.6 556.51 L579.5 556.36 L581.4 556.23 L583.3 556.11 L585.2 556.01 L587.1 555.92 L589 555.85 L590.9 555.79 L592.8 555.74 L594.7 555.72 L596.6 555.7 L598.5 555.7 L600.4 555.72 L602.3 555.75 L604.2 555.79 L606.1 555.85 L608 555.92" fill="none" stroke="#2e2e2e" stroke-width="0.9" stroke-linejoin="round" stroke-linecap="round" />
<line x1="570" y1="555.07" x2="570" y2="575.79" stroke="#2e2e2e" stroke-width="1" />
<line x1="608" y1="553.72" x2="608" y2="574.34" stroke="#2e2e2e" stroke-width="1" />
<line x1="623.4" y1="554.89" x2="623.4" y2="577.6" stroke="#2e2e2e" stroke-width="1" />
<line x1="609.2" y1="576.59" x2="623.4" y2="577.6" stroke="#2e2e2e" stroke-width="0.9" />
<line x1="609.2" y1="570.39" x2="623.4" y2="571.6" stroke="#2e2e2e" stroke-width="0.9" />
<line x1="609.2" y1="556.17" x2="609.2" y2="576.59" stroke="#2e2e2e" stroke-width="0.9" />
<line x1="611" y1="556.27" x2="622" y2="557.34" stroke="#2e2e2e" stroke-width="0.8" />
<line x1="553.2" y1="559.23" x2="553.2" y2="579.67" stroke="#2e2e2e" stroke-width="1" />
<line x1="553.2" y1="579.67" x2="570" y2="575.79" stroke="#2e2e2e" stroke-width="0.9" />
<path d="M555 562 L555 575.6" fill="none" stroke="#2e2e2e" stroke-width="0.8" stroke-linejoin="round" stroke-linecap="round" />
<path d="M555 562 L559.4 564.6 L559.4 571.6 L555 575" fill="none" stroke="#2e2e2e" stroke-width="0.8" stroke-linejoin="round" stroke-linecap="round" />
<path d="M559.4 566 L569.4 562.8" fill="none" stroke="#2e2e2e" stroke-width="0.8" stroke-linejoin="round" stroke-linecap="round" />
<path d="M559.4 571.6 L569.6 568.6" fill="none" stroke="#2e2e2e" stroke-width="0.8" stroke-linejoin="round" stroke-linecap="round" />
<path d="M562 569.4 q2.4 2 6.6 0.2" fill="none" stroke="#222" stroke-width="1.3" stroke-linejoin="round" stroke-linecap="round" />
<line x1="523.8" y1="567.83" x2="523.8" y2="590.4" stroke="#2e2e2e" stroke-width="1" />
<line x1="517.8" y1="574" x2="517.8" y2="592" stroke="#2e2e2e" stroke-width="0.9" />
<line x1="521" y1="572.4" x2="521" y2="590.4" stroke="#2e2e2e" stroke-width="0.8" />
<path d="M518.6 592.4 L523.8 588.6 L530.6 592.2 L524.6 596.4 L518.6 592.4" fill="none" stroke="#2e2e2e" stroke-width="0.9" stroke-linejoin="round" stroke-linecap="round" />
<line x1="523.8" y1="588.6" x2="526.4" y2="591.2" stroke="#2e2e2e" stroke-width="0.8" />
<path d="M643 558.38 L643 547.6 L649.4 548.2 L649.4 559.87" fill="#fff" stroke="#2e2e2e" stroke-width="1" stroke-linejoin="round" stroke-linecap="round" />
<path d="M673.3 568.8 L673.3 573.4 L675.4 574.2 L675.4 577.6 L673.8 578.4 L673.8 585 L677.6 588.4" fill="none" stroke="#2e2e2e" stroke-width="1" stroke-linejoin="round" stroke-linecap="round" />
<path d="M674.2 581.7 L685.8 580.8 L687.4 583.4" fill="none" stroke="#2a2a2a" stroke-width="1.4" stroke-linejoin="round" stroke-linecap="round" />
<path d="M679.2 583.4 L686.6 582.6 L687 589.2 L680 590.8 Z" fill="none" stroke="#2e2e2e" stroke-width="1" stroke-linejoin="round" stroke-linecap="round" />
<line x1="673.8" y1="585" x2="680" y2="590.8" stroke="#2e2e2e" stroke-width="0.9" />
<line x1="677.6" y1="588.4" x2="685.8" y2="596.6" stroke="#2e2e2e" stroke-width="0.9" />
<path d="M671.7 594.2 L677.5 591.7 L683.3 596.7 L677.5 599.2 Z" fill="none" stroke="#2e2e2e" stroke-width="1" stroke-linejoin="round" stroke-linecap="round" />
<path d="M513.6 624.2 L519.2 621.8 L523.8 626.4 L518.6 628.2" fill="none" stroke="#2e2e2e" stroke-width="0.9" stroke-linejoin="round" stroke-linecap="round" />
<line x1="520.8" y1="628.4" x2="523.8" y2="626.4" stroke="#222" stroke-width="1.5" />
<path d="M670 627.4 L664.8 629.4 L670.2 631" fill="none" stroke="#2e2e2e" stroke-width="0.9" stroke-linejoin="round" stroke-linecap="round" />
<path d="M571.2 645.6 L572.6 643.8 L585.8 644.4 L586.6 646.6" fill="#fff" stroke="#2e2e2e" stroke-width="1" stroke-linejoin="round" stroke-linecap="round" />
<ellipse cx="611.2" cy="583.1" rx="8.5" ry="3.5" fill="none" stroke="#5a5a5a" stroke-width="1.6" />
<ellipse cx="538.3" cy="597.1" rx="8.5" ry="3.5" fill="none" stroke="#5a5a5a" stroke-width="1.6" />
<ellipse cx="582.5" cy="637.5" rx="8.5" ry="3.5" fill="none" stroke="#5a5a5a" stroke-width="1.6" />
<ellipse cx="656.3" cy="624.3" rx="8.5" ry="3.5" fill="none" stroke="#5a5a5a" stroke-width="1.6" />
<path d="M534.2 620.6 C535.6 617.6 541.4 617.6 543.4 619.4 C545.8 621.6 548.8 621.6 550.6 623 C552.8 625 551.8 628 548.2 628.6 C544.6 629.2 539.6 628.8 538.4 626.2 C537.6 624.4 535.6 624.2 534.2 620.6 Z" fill="none" stroke="#222" stroke-width="1.2" stroke-linejoin="round" stroke-linecap="round" />
<path d="M536.4 621.4 C538.4 619.8 541.6 620.2 542.4 622.2" fill="none" stroke="#2e2e2e" stroke-width="0.8" stroke-linejoin="round" stroke-linecap="round" />
<path d="M644.2 594.8 C646 592.6 650.6 592.2 653.6 593.4 C657.2 592.6 660.6 593.8 662 597.2 C663.4 600.4 660.4 602.6 656.4 602.2 C652.4 601.8 650.8 599.6 650.2 597.4 C648.4 596.8 645.6 596.6 644.2 594.8 Z" fill="none" stroke="#222" stroke-width="1.1" stroke-linejoin="round" stroke-linecap="round" />
<path d="M653.8 593.6 C652.8 596.2 654.4 599.4 657.4 600.2" fill="none" stroke="#2e2e2e" stroke-width="0.8" stroke-linejoin="round" stroke-linecap="round" />
<path d="M657 593.6 C660.2 594.4 660.6 598.6 658.2 600" fill="none" stroke="#2e2e2e" stroke-width="0.8" stroke-linejoin="round" stroke-linecap="round" />
<clipPath id="holeclip"><ellipse cx="597.3" cy="611" rx="53.3" ry="21.5"/></clipPath>
<ellipse cx="597.3" cy="611" rx="53.3" ry="21.5" fill="#fff" stroke="#2e2e2e" stroke-width="1.1" />
<g clip-path="url(#holeclip)">
<path d="M560 595.4 C573 598.8 618 599 628.4 594.4" fill="none" stroke="#2e2e2e" stroke-width="0.9" stroke-linejoin="round" stroke-linecap="round" />
<path d="M552.6 600.4 C570 604.8 622 605 640.4 597.8" fill="none" stroke="#2e2e2e" stroke-width="0.9" stroke-linejoin="round" stroke-linecap="round" />
<path d="M550.6 601 C560 606 575 609.4 597 609.6 C618 609.6 633 605.6 642 599.4" fill="none" stroke="#1c1c1c" stroke-width="1.6" stroke-linejoin="round" stroke-linecap="round" />
<path d="M549.8 604.6 C556 610.6 574 615.6 598 616 C622 616 640 611.6 648.6 604.8" fill="none" stroke="#1c1c1c" stroke-width="1.6" stroke-linejoin="round" stroke-linecap="round" />
<path d="M647.61 608.53 L648.03 610.16 L648.08 611.8 L647.75 613.44 L647.07 615.06 L646.02 616.65 L644.61 618.21 L642.86 619.71 L640.78 621.15 L638.38 622.51 L635.69 623.8 L632.71 624.99 L629.48 626.08 L626.01 627.06 L622.34 627.93 L618.48 628.67 L614.47 629.29 L610.34 629.77 L606.11 630.12 L601.82 630.33 L597.5 630.4 L593.18 630.33 L588.89 630.12 L584.66 629.77 L580.53 629.29 L576.52 628.67 L572.66 627.93 L568.99 627.06 L565.52 626.08 L562.29 624.99 L559.31 623.8 L556.62 622.51 L554.22 621.15 L552.14 619.71 L550.39 618.21 L548.98 616.65 L547.93 615.06 L547.25 613.44 L546.92 611.8 L546.97 610.16 L547.39 608.53" fill="none" stroke="#2e2e2e" stroke-width="1" stroke-linejoin="round" stroke-linecap="round" />
</g>
<path d="M572.5 609.2 L584.6 610.6 L584.6 615.6 L572.5 614.2 Z" fill="#fff" stroke="#2e2e2e" stroke-width="1" stroke-linejoin="round" stroke-linecap="round" />
<path d="M572.2 619.6 L585 620.6 L585 628 L572.2 626.8 Z" fill="#fff" stroke="#222" stroke-width="1.6" stroke-linejoin="round" stroke-linecap="round" />
<line x1="574" y1="622" x2="583.4" y2="622.8" stroke="#666" stroke-width="0.8" />
<path d="M608.6 619.8 L608.6 629.6" fill="none" stroke="#2e2e2e" stroke-width="0.9" stroke-linejoin="round" stroke-linecap="round" />
<path d="M608.6 619.8 L615.4 619.4 L615.6 630" fill="none" stroke="#2e2e2e" stroke-width="0.9" stroke-linejoin="round" stroke-linecap="round" />
<path d="M608.6 629.6 L611.4 629.4 L611.4 631.4" fill="none" stroke="#2e2e2e" stroke-width="0.9" stroke-linejoin="round" stroke-linecap="round" />
<path d="M641 612 L646 608 L647.6 611 L642 616 L641 612" fill="none" stroke="#2e2e2e" stroke-width="1.1" stroke-linejoin="round" stroke-linecap="round" />
<line x1="624.6" y1="603.8" x2="631" y2="604.4" stroke="#2e2e2e" stroke-width="1" />
<line x1="577.6" y1="591.2" x2="580.6" y2="592.4" stroke="#2e2e2e" stroke-width="0.9" />
<line x1="585.6" y1="590.8" x2="586.4" y2="592.6" stroke="#222" stroke-width="1.6" />
<path d="M512.4 687.7 L512.44 686.68 L512.55 685.67 L512.73 684.66 L512.99 683.65 L513.33 682.64 L513.73 681.64 L514.22 680.64 L514.77 679.65 L515.39 678.66 L516.09 677.69 L516.86 676.72 L517.7 675.76 L518.61 674.81 L519.59 673.87 L520.63 672.94 L521.75 672.03 L522.93 671.13 L524.17 670.24 L525.48 669.37 L526.86 668.51 L528.29 667.67 L529.79 666.84 L531.34 666.04 L532.96 665.25 L534.63 664.48 L536.36 663.73 L538.14 663 L539.97 662.29 L541.86 661.6 L543.79 660.94 L545.78 660.29 L547.81 659.67 L549.88 659.08 L552 658.51 L554.15 657.96 L556.35 657.44 L558.58 656.94 L560.85 656.47 L563.16 656.02 L565.49 655.6" fill="none" stroke="#2a2a2a" stroke-width="1.2" stroke-linejoin="round" stroke-linecap="round" />
<path d="M630.18 654.71 L632.72 655.08 L635.24 655.49 L637.72 655.92 L640.17 656.39 L642.58 656.89 L644.95 657.41 L647.28 657.97 L649.56 658.55 L651.8 659.16 L653.99 659.79 L656.13 660.46 L658.22 661.15 L660.26 661.86 L662.23 662.6 L664.15 663.36 L666.01 664.14 L667.81 664.95 L669.54 665.78 L671.21 666.63 L672.81 667.5 L674.34 668.39 L675.81 669.3 L677.2 670.22 L678.52 671.16 L679.77 672.12 L680.94 673.09 L682.03 674.07 L683.05 675.07 L683.99 676.08 L684.86 677.1 L685.64 678.13 L686.34 679.17 L686.96 680.22 L687.5 681.28 L687.96 682.34 L688.33 683.4 L688.62 684.47 L688.83 685.55 L688.96 686.62 L689 687.7" fill="none" stroke="#2a2a2a" stroke-width="1.2" stroke-linejoin="round" stroke-linecap="round" />
<path d="M565.4 655.4 C570 653.6 573 652.6 577 652 C584 649.4 592 648 600 648 C610 648 620 650 627 652.6 C629.4 653.4 631 653.8 633.4 655" fill="none" stroke="#2a2a2a" stroke-width="1.2" stroke-linejoin="round" stroke-linecap="round" />
<path d="M576.8 652.2 L584.6 651.2 C596 650.2 612 651 623 653 C626 653.6 628.6 653.8 631 654.2" fill="none" stroke="#2a2a2a" stroke-width="1" stroke-linejoin="round" stroke-linecap="round" />
<line x1="584.8" y1="649.8" x2="584.8" y2="652.8" stroke="#2a2a2a" stroke-width="0.9" />
<path d="M570.6 653.8 L576.6 650.8 L577.8 652.4" fill="none" stroke="#2a2a2a" stroke-width="0.9" stroke-linejoin="round" stroke-linecap="round" />
<line x1="512.4" y1="687.7" x2="512.4" y2="726" stroke="#2a2a2a" stroke-width="1.2" />
<line x1="689" y1="687.7" x2="689" y2="726" stroke="#2a2a2a" stroke-width="1.2" />
<path d="M685.38 702.29L685.38 715.65 M516.02 702.29L516.02 715.65 M686.59 703.96L686.59 717.35 M514.81 703.96L514.81 717.35 M687.77 706.1L687.77 719.52 M513.63 706.1L513.63 719.52" fill="none" stroke="#1c1c1c" stroke-width="0.7" stroke-linejoin="round" stroke-linecap="round" stroke-linecap="butt"/>
<path d="M678.85 696.37L678.85 709.64 M522.55 696.37L522.55 709.64 M680.22 697.37L680.22 710.66 M521.18 697.37L521.18 710.66 M681.56 698.45L681.56 711.74 M519.84 698.45L519.84 711.74 M682.87 699.6L682.87 712.92 M518.53 699.6L518.53 712.92 M684.14 700.87L684.14 714.2 M517.26 700.87L517.26 714.2" fill="none" stroke="#1c1c1c" stroke-width="0.8" stroke-linejoin="round" stroke-linecap="round" stroke-linecap="butt"/>
<path d="M671.44 692.05L671.44 705.25 M529.96 692.05L529.96 705.25 M673 692.84L673 706.06 M528.4 692.84L528.4 706.06 M674.52 693.67L674.52 706.89 M526.88 693.67L526.88 706.89 M676 694.53L676 707.76 M525.4 694.53L525.4 707.76 M677.44 695.43L677.44 708.68 M523.96 695.43L523.96 708.68" fill="none" stroke="#1c1c1c" stroke-width="0.9" stroke-linejoin="round" stroke-linecap="round" stroke-linecap="butt"/>
<path d="M663.04 688.48L663.04 701.63 M538.36 688.48L538.36 701.63 M664.8 689.15L664.8 702.31 M536.6 689.15L536.6 702.31 M666.53 689.84L666.53 703.01 M534.87 689.84L534.87 703.01 M668.21 690.55L668.21 703.73 M533.19 690.55L533.19 703.73 M669.85 691.29L669.85 704.48 M531.55 691.29L531.55 704.48" fill="none" stroke="#1c1c1c" stroke-width="1" stroke-linejoin="round" stroke-linecap="round" stroke-linecap="butt"/>
<path d="M655.51 686.02L655.51 699.13 M545.89 686.02L545.89 699.13 M657.46 686.6L657.46 699.72 M543.94 686.6L543.94 699.72 M659.37 687.21L659.37 700.34 M542.03 687.21L542.03 700.34 M661.23 687.84L661.23 700.97 M540.17 687.84L540.17 700.97" fill="none" stroke="#1c1c1c" stroke-width="1.1" stroke-linejoin="round" stroke-linecap="round" stroke-linecap="butt"/>
<path d="M600.7 679L600.7 692 M604.02 679.02L604.02 692.02 M597.38 679.02L597.38 692.02 M607.26 679.09L607.26 692.09 M594.14 679.09L594.14 692.09 M610.41 679.2L610.41 692.2 M590.99 679.2L590.99 692.2 M613.49 679.34L613.49 692.35 M587.91 679.34L587.91 692.35 M616.49 679.52L616.49 692.53 M584.91 679.52L584.91 692.53 M619.42 679.74L619.42 692.75 M581.98 679.74L581.98 692.75 M622.27 679.98L622.27 693 M579.13 679.98L579.13 693 M625.06 680.26L625.06 693.28 M576.34 680.26L576.34 693.28 M627.77 680.56L627.77 693.59 M573.63 680.56L573.63 693.59 M630.41 680.9L630.41 693.92 M570.99 680.9L570.99 693.92 M632.99 681.25L632.99 694.29 M568.41 681.25L568.41 694.29 M635.51 681.63L635.51 694.67 M565.89 681.63L565.89 694.67 M637.96 682.04L637.96 695.08 M563.44 682.04L563.44 695.08 M640.35 682.46L640.35 695.51 M561.05 682.46L561.05 695.51 M642.69 682.91L642.69 695.97 M558.71 682.91L558.71 695.97 M644.96 683.38L644.96 696.44 M556.44 683.38L556.44 696.44 M647.18 683.87L647.18 696.94 M554.22 683.87L554.22 696.94 M649.34 684.38L649.34 697.46 M552.06 684.38L552.06 697.46 M651.45 684.9L651.45 697.99 M549.95 684.9L549.95 697.99 M653.5 685.45L653.5 698.55 M547.9 685.45L547.9 698.55" fill="none" stroke="#1c1c1c" stroke-width="1.2" stroke-linejoin="round" stroke-linecap="round" stroke-linecap="butt"/>
<path d="M512.4 711.5 L512.67 708.95 L513.49 706.42 L514.84 703.91 L516.72 701.46 L519.12 699.06 L522.02 696.75 L525.41 694.52 L529.26 692.4 L533.56 690.39 L538.26 688.52 L543.35 686.79 L548.8 685.21 L554.56 683.79 L560.61 682.54 L566.91 681.47 L573.41 680.59 L580.09 679.9 L586.89 679.4 L593.77 679.1 L600.7 679 L607.63 679.1 L614.51 679.4 L621.31 679.9 L627.99 680.59 L634.49 681.47 L640.79 682.54 L646.84 683.79 L652.6 685.21 L658.05 686.79 L663.14 688.52 L667.84 690.39 L672.14 692.4 L675.99 694.52 L679.38 696.75 L682.28 699.06 L684.68 701.46 L686.56 703.91 L687.91 706.42 L688.73 708.95 L689 711.5" fill="none" stroke="#1c1c1c" stroke-width="1.5" stroke-linejoin="round" stroke-linecap="round" />
<path d="M512.4 725 L512.67 722.41 L513.49 719.84 L514.84 717.3 L516.72 714.8 L519.12 712.37 L522.02 710.02 L525.41 707.76 L529.26 705.6 L533.56 703.57 L538.26 701.67 L543.35 699.91 L548.8 698.3 L554.56 696.86 L560.61 695.6 L566.91 694.51 L573.41 693.62 L580.09 692.91 L586.89 692.41 L593.77 692.1 L600.7 692 L607.63 692.1 L614.51 692.41 L621.31 692.91 L627.99 693.62 L634.49 694.51 L640.79 695.6 L646.84 696.86 L652.6 698.3 L658.05 699.91 L663.14 701.67 L667.84 703.57 L672.14 705.6 L675.99 707.76 L679.38 710.02 L682.28 712.37 L684.68 714.8 L686.56 717.3 L687.91 719.84 L688.73 722.41 L689 725" fill="none" stroke="#555" stroke-width="0.6" stroke-linejoin="round" stroke-linecap="round" />
<path d="M512.4 711.5 L512.63 709.16 L512.86 708.2 L513.09 707.46 L513.31 706.84 L513.54 706.29 L513.77 705.79 L514 705.34 L514.23 704.92 L514.46 704.53 L514.69 704.15 L514.91 703.8 L515.14 703.46 L515.37 703.14 L515.6 702.83 L515.6 716.2 L515.37 716.51 L515.14 716.84 L514.91 717.18 L514.69 717.54 L514.46 717.92 L514.23 718.32 L514 718.75 L513.77 719.21 L513.54 719.71 L513.31 720.26 L513.09 720.9 L512.86 721.65 L512.63 722.63 L512.4 725 Z" fill="#444" stroke="#333" stroke-width="0.5" stroke-linejoin="round" stroke-linecap="round" />
<path d="M689 711.5 L688.77 709.16 L688.54 708.2 L688.31 707.46 L688.09 706.84 L687.86 706.29 L687.63 705.79 L687.4 705.34 L687.17 704.92 L686.94 704.53 L686.71 704.15 L686.49 703.8 L686.26 703.46 L686.03 703.14 L685.8 702.83 L685.8 716.2 L686.03 716.51 L686.26 716.84 L686.49 717.18 L686.71 717.54 L686.94 717.92 L687.17 718.32 L687.4 718.75 L687.63 719.21 L687.86 719.71 L688.09 720.26 L688.31 720.9 L688.54 721.65 L688.77 722.63 L689 725 Z" fill="#444" stroke="#333" stroke-width="0.5" stroke-linejoin="round" stroke-linecap="round" />
<path d="M689 725.5 L688.73 728.39 L687.91 731.26 L686.56 734.09 L684.68 736.87 L682.28 739.58 L679.38 742.21 L675.99 744.73 L672.14 747.13 L667.84 749.4 L663.14 751.52 L658.05 753.48 L652.6 755.27 L646.84 756.88 L640.79 758.29 L634.49 759.5 L627.99 760.5 L621.31 761.28 L614.51 761.85 L607.63 762.19 L600.7 762.3 L593.77 762.19 L586.89 761.85 L580.09 761.28 L573.41 760.5 L566.91 759.5 L560.61 758.29 L554.56 756.88 L548.8 755.27 L543.35 753.48 L538.26 751.52 L533.56 749.4 L529.26 747.13 L525.41 744.73 L522.02 742.21 L519.12 739.58 L516.72 736.87 L514.84 734.09 L513.49 731.26 L512.67 728.39 L512.4 725.5" fill="none" stroke="#2a2a2a" stroke-width="1.2" stroke-linejoin="round" stroke-linecap="round" />
<path d="M524.49 743.9 L523.85 743.43 L523.22 742.95 L522.61 742.46 L522.01 741.98 L521.44 741.49 L520.88 740.99 L520.34 740.5 L519.82 740 L519.31 739.49 L518.82 738.99 L518.35 738.48 L517.9 737.97 L517.47 737.45 L517.05 736.93 L516.66 736.41 L516.28 735.89 L515.92 735.37 L515.58 734.84 L515.26 734.31 L514.96 733.78 L514.67 733.25 L514.41 732.71 L514.16 732.17 L513.93 731.64 L513.72 731.1 L513.54 730.56 L513.37 730.02 L513.21 729.47 L513.08 728.93 L512.97 728.39 L512.88 727.84 L512.81 727.3 L512.75 726.75 L512.72 726.21 L512.7 725.66 L512.7 725.11 L512.73 724.57 L512.77 724.02 L512.83 723.48 L512.91 722.93" fill="none" stroke="#222" stroke-width="1.8" stroke-linejoin="round" stroke-linecap="round" />
<path d="M688.49 722.93 L688.57 723.48 L688.63 724.02 L688.67 724.57 L688.7 725.11 L688.7 725.66 L688.68 726.21 L688.65 726.75 L688.59 727.3 L688.52 727.84 L688.43 728.39 L688.32 728.93 L688.19 729.47 L688.03 730.02 L687.86 730.56 L687.68 731.1 L687.47 731.64 L687.24 732.17 L686.99 732.71 L686.73 733.25 L686.44 733.78 L686.14 734.31 L685.82 734.84 L685.48 735.37 L685.12 735.89 L684.74 736.41 L684.35 736.93 L683.93 737.45 L683.5 737.97 L683.05 738.48 L682.58 738.99 L682.09 739.49 L681.58 740 L681.06 740.5 L680.52 740.99 L679.96 741.49 L679.39 741.98 L678.79 742.46 L678.18 742.95 L677.55 743.43 L676.91 743.9" fill="none" stroke="#222" stroke-width="1.8" stroke-linejoin="round" stroke-linecap="round" />
<path d="M530.61 746.93 L526.34 743.88 L522.91 740.68 L520.36 737.34 L518.73 733.92 L518.03 730.46 L518.27 726.98 L519.44 723.53 L521.54 720.15 L524.54 716.88 L528.41 713.75 L533.09 710.8 L538.55 708.06 L544.71 705.57 L551.51 703.35 L558.87 701.42 L566.71 699.82 L574.94 698.55 L583.46 697.64 L592.18 697.09 L601 696.9 L609.82 697.09 L618.54 697.64 L627.06 698.55 L635.29 699.82 L643.13 701.42 L650.49 703.35 L657.29 705.57 L663.45 708.06 L668.91 710.8 L673.59 713.75 L677.46 716.88 L680.46 720.15 L682.56 723.53 L683.73 726.98 L683.97 730.46 L683.27 733.92 L681.64 737.34 L679.09 740.68 L675.66 743.88 L671.39 746.93" fill="none" stroke="#2a2a2a" stroke-width="1.1" stroke-linejoin="round" stroke-linecap="round" />
<path d="M513.3 834 L513.6 831.97 L514.49 829.95 L515.98 827.95 L518.05 826 L520.69 824.09 L523.88 822.24 L527.6 820.47 L531.83 818.78 L536.55 817.18 L541.73 815.69 L547.32 814.31 L553.31 813.05 L559.64 811.92 L566.29 810.92 L573.21 810.07 L580.36 809.37 L587.69 808.82 L595.17 808.42 L602.74 808.18 L610.35 808.1 L617.96 808.18 L625.53 808.42 L633.01 808.82 L640.34 809.37 L647.49 810.07 L654.41 810.92 L661.06 811.92 L667.39 813.05 L673.38 814.31 L678.97 815.69 L684.15 817.18 L688.87 818.78 L693.1 820.47 L696.82 822.24 L700.01 824.09 L702.65 826 L704.72 827.95 L706.21 829.95 L707.1 831.97 L707.4 834" fill="none" stroke="#444" stroke-width="1" stroke-linejoin="round" stroke-linecap="round" />
<line x1="513.3" y1="834" x2="513.3" y2="995" stroke="#444" stroke-width="1" />
<line x1="707.4" y1="834" x2="707.4" y2="995" stroke="#444" stroke-width="1" />
<ellipse cx="610.35" cy="995.1" rx="97.05" ry="25.9" fill="none" stroke="#2e2e2e" stroke-width="1.1" />
<ellipse cx="610.35" cy="995.3" rx="94.6" ry="25" fill="none" stroke="#444" stroke-width="0.9" />
<ellipse cx="610.35" cy="992.4" rx="93.4" ry="22.6" fill="none" stroke="#444" stroke-width="1" />
<path d="M663.3 974.79 L662.75 975.76 L661.9 976.71 L660.78 977.64 L659.38 978.55 L657.71 979.44 L655.79 980.29 L653.62 981.1 L651.21 981.88 L648.58 982.61 L645.73 983.28 L642.7 983.91 L639.48 984.48 L636.11 984.99 L632.59 985.43 L628.95 985.82 L625.21 986.13 L621.38 986.38 L617.49 986.56 L613.55 986.66 L609.6 986.7 L605.65 986.66 L601.71 986.56 L597.82 986.38 L593.99 986.13 L590.25 985.82 L586.61 985.43 L583.09 984.99 L579.72 984.48 L576.5 983.91 L573.47 983.28 L570.62 982.61 L567.99 981.88 L565.58 981.1 L563.41 980.29 L561.49 979.44 L559.82 978.55 L558.42 977.64 L557.3 976.71 L556.45 975.76 L555.9 974.79" fill="none" stroke="#444" stroke-width="1" stroke-linejoin="round" stroke-linecap="round" />
<ellipse cx="822.5" cy="367" rx="27" ry="27" fill="none" stroke="#333" stroke-width="1" />
<text x="825.9" y="381.9" font-family="'Liberation Sans', sans-serif" font-size="43" font-weight="normal" text-anchor="middle" fill="#111" >1</text>
<rect x="815" y="377.4" width="9.6" height="5.6" fill="#fff"/>
<rect x="828.9" y="377.4" width="9" height="5.6" fill="#fff"/>
<path d="M747.8 580.8 L751.9 605.3 L743.7 605.3 Z" fill="#111" stroke="#111" stroke-width="0.5" stroke-linejoin="round" stroke-linecap="round" />
<line x1="747.8" y1="605.3" x2="747.8" y2="650.8" stroke="#333" stroke-width="1" />
<path d="M722.51 643.35 L720.69 644.2 L719.11 645.11 L717.76 646.08 L716.67 647.09 L715.85 648.14 L715.3 649.21 L715.03 650.3 L715.04 651.39 L715.33 652.48 L715.91 653.55 L716.75 654.59 L717.86 655.6 L719.22 656.57 L720.83 657.47 L722.66 658.32 L724.7 659.09 L726.93 659.79 L729.33 660.4 L731.88 660.91 L734.54 661.33 L737.3 661.65 L740.14 661.87 L743.01 661.98 L745.9 661.99 L748.77 661.89 L751.61 661.68 L754.38 661.37 L757.05 660.96 L759.61 660.45 L762.03 659.85 L764.28 659.17 L766.34 658.4 L768.19 657.56 L769.82 656.66 L771.21 655.7 L772.35 654.7 L773.22 653.66 L773.82 652.59 L774.14 651.5 L774.18 650.41 Q774.6 645.3 773.4 641.8" fill="none" stroke="#333" stroke-width="1" stroke-linejoin="round" stroke-linecap="round" />
<path d="M759.7 632.8 L775.6 640.6 L771.2 643 Z" fill="#111" stroke="#111" stroke-width="0.5" stroke-linejoin="round" stroke-linecap="round" />
<ellipse cx="827.5" cy="621.3" rx="27" ry="27" fill="none" stroke="#333" stroke-width="1" />
<text x="829.15" y="635.5" font-family="'Liberation Sans', sans-serif" font-size="43" font-weight="normal" text-anchor="middle" fill="#111" >2</text>
<path d="M772.2 859.7 L776.3 884.2 L768.1 884.2 Z" fill="#111" stroke="#111" stroke-width="0.5" stroke-linejoin="round" stroke-linecap="round" />
<line x1="772.2" y1="884.2" x2="772.2" y2="929.7" stroke="#333" stroke-width="1" />
<path d="M746.42 922.16 L744.64 923.01 L743.09 923.92 L741.78 924.88 L740.73 925.88 L739.95 926.92 L739.44 927.98 L739.21 929.06 L739.27 930.14 L739.6 931.21 L740.21 932.26 L741.09 933.29 L742.23 934.28 L743.63 935.22 L745.27 936.11 L747.13 936.94 L749.2 937.69 L751.45 938.37 L753.87 938.96 L756.44 939.47 L759.12 939.87 L761.89 940.18 L764.73 940.39 L767.61 940.49 L770.51 940.49 L773.39 940.38 L776.23 940.17 L779 939.86 L781.68 939.45 L784.24 938.94 L786.65 938.34 L788.9 937.66 L790.95 936.91 L792.81 936.08 L794.43 935.19 L795.82 934.24 L796.95 933.25 L797.82 932.22 L798.42 931.16 L798.74 930.09 L798.78 929.01 Q799.2 924.05 797.8 920.7" fill="none" stroke="#333" stroke-width="1" stroke-linejoin="round" stroke-linecap="round" />
<path d="M784.2 912 L800 919.6 L795.6 921.8 Z" fill="#111" stroke="#111" stroke-width="0.5" stroke-linejoin="round" stroke-linecap="round" />
<ellipse cx="852" cy="900" rx="27" ry="27" fill="none" stroke="#333" stroke-width="1" />
<text x="854.1" y="915" font-family="'Liberation Sans', sans-serif" font-size="43" font-weight="normal" text-anchor="middle" fill="#111" >3</text>
<rect x="811.1" y="56.2" width="183.4" height="182.8" fill="none" stroke="#333" stroke-width="1.4"/>
<clipPath id="offclip"><rect x="811.1" y="56.2" width="183.4" height="182.8"/></clipPath>
<g clip-path="url(#offclip)">
<g transform="translate(0 0)">
<path d="M844 122 L892.5 93.5 L914.4 106 L868 134.5 Z" fill="#fff" stroke="#262626" stroke-width="1.35" stroke-linejoin="round" stroke-linecap="round" />
<path d="M844 122 L868 134.5 L867.6 186 L844 175 Z" fill="#fff" stroke="#262626" stroke-width="1.35" stroke-linejoin="round" stroke-linecap="round" />
<path d="M868 134.5 L914.4 106 L915.6 159.4 L867.6 186 Z" fill="#fff" stroke="#262626" stroke-width="1.35" stroke-linejoin="round" stroke-linecap="round" />
<path d="M909.3 137.6 L908.7 120.2 L873.1 138.9 L873.7 174 L909 153.5 L908.7 148" fill="none" stroke="#262626" stroke-width="1.35" stroke-linejoin="round" stroke-linecap="round" />
<path d="M903.8 141.6 L903.2 130.1 L879.25 142.4 L879.5 165.1 L908.4 150.3 L908.4 148.2" fill="none" stroke="#262626" stroke-width="1.35" stroke-linejoin="round" stroke-linecap="round" />
<line x1="881" y1="149.6" x2="887.4" y2="150.8" stroke="#262626" stroke-width="1.1" />
<line x1="889.8" y1="144.6" x2="895.6" y2="146.2" stroke="#262626" stroke-width="1.1" />
<line x1="897.3" y1="140.2" x2="903.2" y2="141.8" stroke="#262626" stroke-width="1.1" />
<path d="M885.4 152.9 L887.2 151.4 L911.6 138.3 L914.2 139.2 L890.3 154 L885.4 152.9" fill="#fff" stroke="#262626" stroke-width="1.2" stroke-linejoin="round" stroke-linecap="round" />
<path d="M885.4 152.9 L885.7 157 L890.3 158.2 L890.3 154" fill="#fff" stroke="#262626" stroke-width="1.2" stroke-linejoin="round" stroke-linecap="round" />
<path d="M890.3 154 L914.2 139.2 L915 144.2 L890.3 158.2 Z" fill="#fff" stroke="#262626" stroke-width="1.2" stroke-linejoin="round" stroke-linecap="round" />
<line x1="914.4" y1="106" x2="915.6" y2="159.4" stroke="#262626" stroke-width="1.35" />
<line x1="817.5" y1="140" x2="817.5" y2="150.6" stroke="#262626" stroke-width="1.3" />
<line x1="817.5" y1="153.8" x2="817.5" y2="164.6" stroke="#262626" stroke-width="1.3" />
<path d="M817.5 150.6 L821.6 152.4 L817.5 153.8" fill="none" stroke="#262626" stroke-width="1.2" stroke-linejoin="round" stroke-linecap="round" />
<line x1="817.5" y1="146" x2="844" y2="145.8" stroke="#262626" stroke-width="1.4" />
<line x1="817.5" y1="156" x2="844" y2="155.6" stroke="#262626" stroke-width="1.5" />
</g>
<g transform="translate(0 0)">
<path d="M917.5 136.8 C917.62 136.37 917.7 134.82 918.2 134.2 C918.7 133.58 919.2 133.35 920.5 133.1 C921.8 132.85 923.87 132.8 926 132.7 C928.13 132.6 930.42 132.47 933.3 132.5 C936.18 132.53 940.68 132.65 943.3 132.9 C945.92 133.15 947.18 133.6 949 134 C950.82 134.4 952.37 134.98 954.2 135.3 C956.03 135.62 958.2 135.72 960 135.9 C961.8 136.08 963.57 136.08 965 136.4 C966.43 136.72 967.63 137.17 968.6 137.8 C969.57 138.43 970.13 139.08 970.8 140.2 C971.47 141.32 972.03 143 972.6 144.5 C973.17 146 973.6 147.48 974.2 149.2 C974.8 150.92 975.5 153 976.2 154.8 C976.9 156.6 977.53 158.43 978.4 160 C979.27 161.57 980.3 162.95 981.4 164.2 C982.5 165.45 983.67 166.5 985 167.5 C986.33 168.5 987.87 169.38 989.4 170.2 C990.93 171.02 993.4 172.03 994.2 172.4" fill="none" stroke="#262626" stroke-width="1.2" stroke-linejoin="round" stroke-linecap="round" />
<path d="M917.5 136.8 C917.58 137.17 917.58 138.47 918 139 C918.42 139.53 918.9 139.77 920 140 C921.1 140.23 923.07 140.27 924.6 140.4 C926.13 140.53 927.7 140.6 929.2 140.8 C930.7 141 932.22 141.32 933.6 141.6 C934.98 141.88 936.27 142.17 937.5 142.5 C938.73 142.83 939.88 143.25 941 143.6 C942.12 143.95 943.13 144.43 944.2 144.6 C945.27 144.77 946.37 144.67 947.4 144.6 C948.43 144.53 949.9 144.27 950.4 144.2" fill="none" stroke="#262626" stroke-width="1.2" stroke-linejoin="round" stroke-linecap="round" />
<path d="M944.2 144.6 C943.83 144.93 942.57 145.83 942 146.6 C941.43 147.37 941 148.2 940.8 149.2 C940.6 150.2 940.67 151.5 940.8 152.6 C940.93 153.7 941.3 154.8 941.6 155.8 C941.9 156.8 942.3 157.77 942.6 158.6 C942.9 159.43 943.27 160.43 943.4 160.8" fill="none" stroke="#262626" stroke-width="1.2" stroke-linejoin="round" stroke-linecap="round" />
<path d="M949.8 163 C949.27 162.83 947.67 162.37 946.6 162 C945.53 161.63 944.83 161.17 943.4 160.8 C941.97 160.43 939.93 160.02 938 159.8 C936.07 159.58 933.33 159.37 931.8 159.5 C930.27 159.63 929.53 160.08 928.8 160.6 C928.07 161.12 927.53 161.93 927.4 162.6 C927.27 163.27 927.5 164.03 928 164.6 C928.5 165.17 929.47 165.57 930.4 166 C931.33 166.43 932.53 166.77 933.6 167.2 C934.67 167.63 935.8 167.97 936.8 168.6 C937.8 169.23 938.67 170.13 939.6 171 C940.53 171.87 941.47 172.97 942.4 173.8 C943.33 174.63 944.03 175.27 945.2 176 C946.37 176.73 947.9 177.53 949.4 178.2 C950.9 178.87 952.2 179.4 954.2 180 C956.2 180.6 958.9 181.23 961.4 181.8 C963.9 182.37 966.93 182.87 969.2 183.4 C971.47 183.93 973.07 184.3 975 185 C976.93 185.7 978.7 186.57 980.8 187.6 C982.9 188.63 985.37 189.9 987.6 191.2 C989.83 192.5 993.1 194.7 994.2 195.4" fill="none" stroke="#262626" stroke-width="1.2" stroke-linejoin="round" stroke-linecap="round" />
<path d="M949.2 155 C949.4 155.57 949.93 157.37 950.4 158.4 C950.87 159.43 951.37 160.37 952 161.2 C952.63 162.03 953.83 163.03 954.2 163.4" fill="none" stroke="#262626" stroke-width="1.1" stroke-linejoin="round" stroke-linecap="round" />
<path d="M957.4 154.6 C957.53 155.1 958.17 156.57 958.2 157.6 C958.23 158.63 958.03 159.7 957.6 160.8 C957.17 161.9 956.53 163.1 955.6 164.2 C954.67 165.3 952.6 166.87 952 167.4" fill="none" stroke="#262626" stroke-width="1.1" stroke-linejoin="round" stroke-linecap="round" />
<path d="M945 145.4 C945.7 145.63 947.77 146.27 949.2 146.8 C950.63 147.33 952.27 147.83 953.6 148.6 C954.93 149.37 956.6 150.93 957.2 151.4" fill="none" stroke="#262626" stroke-width="1" stroke-linejoin="round" stroke-linecap="round" />
<path d="M950.4 144.2 C950.77 143.9 952.13 142.83 952.6 142.4 C953.07 141.97 953.1 141.73 953.2 141.6" fill="none" stroke="#262626" stroke-width="1" stroke-linejoin="round" stroke-linecap="round" />
<line x1="928.6" y1="137.6" x2="929" y2="140.6" stroke="#262626" stroke-width="0.9" />
<line x1="939.8" y1="137.8" x2="938.2" y2="141.4" stroke="#262626" stroke-width="0.9" />
<line x1="946.6" y1="149.6" x2="950.4" y2="152.8" stroke="#262626" stroke-width="0.9" />
<line x1="950.8" y1="148.4" x2="947.2" y2="153.6" stroke="#262626" stroke-width="0.9" />
<line x1="951.6" y1="144.6" x2="954" y2="148" stroke="#262626" stroke-width="0.9" />
</g>
</g>
<path d="M958 59.5 C958.73 60.52 961.2 63.45 962.4 65.6 C963.6 67.75 964.5 70 965.2 72.4 C965.9 74.8 966.4 77.4 966.6 80 C966.8 82.6 966.83 85.43 966.4 88 C965.97 90.57 965.33 92.8 964 95.4 C962.67 98 960.63 101.07 958.4 103.6 C956.17 106.13 952.83 108.73 950.6 110.6 C948.37 112.47 945.93 114.1 945 114.8 L947 116.6 L925 121.8 L938.5 104 L941 108.2 C941.77 107.57 944.1 105.97 945.6 104.4 C947.1 102.83 948.73 100.87 950 98.8 C951.27 96.73 952.4 94.3 953.2 92 C954 89.7 954.53 87.27 954.8 85 C955.07 82.73 955.07 80.47 954.8 78.4 C954.53 76.33 954.03 74.4 953.2 72.6 C952.37 70.8 951.33 69.28 949.8 67.6 C948.27 65.92 944.97 63.35 944 62.5 L952 66.6 Z" fill="#151515" stroke="#111" stroke-width="0.8" stroke-linejoin="round" stroke-linecap="round" />
<text transform="translate(846.3 225.5) scale(0.785 1)" font-family="'Liberation Serif', serif" font-size="34.4" fill="#111">OFF</text>
<rect x="255.5" y="972.8" width="179.8" height="180" fill="none" stroke="#333" stroke-width="1.4"/>
<clipPath id="onclip"><rect x="255.5" y="972.8" width="179.8" height="180"/></clipPath>
<g clip-path="url(#onclip)">
<g transform="translate(-556.5 915.4)">
<path d="M844 122 L892.5 93.5 L914.4 106 L868 134.5 Z" fill="#fff" stroke="#262626" stroke-width="1.35" stroke-linejoin="round" stroke-linecap="round" />
<path d="M844 122 L868 134.5 L867.6 186 L844 175 Z" fill="#fff" stroke="#262626" stroke-width="1.35" stroke-linejoin="round" stroke-linecap="round" />
<path d="M868 134.5 L914.4 106 L915.6 159.4 L867.6 186 Z" fill="#fff" stroke="#262626" stroke-width="1.35" stroke-linejoin="round" stroke-linecap="round" />
<path d="M909.3 137.6 L908.7 120.2 L873.1 138.9 L873.7 174 L909 153.5 L908.7 148" fill="none" stroke="#262626" stroke-width="1.35" stroke-linejoin="round" stroke-linecap="round" />
<path d="M903.8 141.6 L903.2 130.1 L879.25 142.4 L879.5 165.1 L908.4 150.3 L908.4 148.2" fill="none" stroke="#262626" stroke-width="1.35" stroke-linejoin="round" stroke-linecap="round" />
<line x1="881" y1="149.6" x2="887.4" y2="150.8" stroke="#262626" stroke-width="1.1" />
<line x1="889.8" y1="144.6" x2="895.6" y2="146.2" stroke="#262626" stroke-width="1.1" />
<line x1="897.3" y1="140.2" x2="903.2" y2="141.8" stroke="#262626" stroke-width="1.1" />
<path d="M885.4 152.9 L887.2 151.4 L911.6 138.3 L914.2 139.2 L890.3 154 L885.4 152.9" fill="#fff" stroke="#262626" stroke-width="1.2" stroke-linejoin="round" stroke-linecap="round" />
<path d="M885.4 152.9 L885.7 157 L890.3 158.2 L890.3 154" fill="#fff" stroke="#262626" stroke-width="1.2" stroke-linejoin="round" stroke-linecap="round" />
<path d="M890.3 154 L914.2 139.2 L915 144.2 L890.3 158.2 Z" fill="#fff" stroke="#262626" stroke-width="1.2" stroke-linejoin="round" stroke-linecap="round" />
<line x1="914.4" y1="106" x2="915.6" y2="159.4" stroke="#262626" stroke-width="1.35" />
<line x1="817.5" y1="140" x2="817.5" y2="150.6" stroke="#262626" stroke-width="1.3" />
<line x1="817.5" y1="153.8" x2="817.5" y2="164.6" stroke="#262626" stroke-width="1.3" />
<path d="M817.5 150.6 L821.6 152.4 L817.5 153.8" fill="none" stroke="#262626" stroke-width="1.2" stroke-linejoin="round" stroke-linecap="round" />
<line x1="817.5" y1="146" x2="844" y2="145.8" stroke="#262626" stroke-width="1.4" />
<line x1="817.5" y1="156" x2="844" y2="155.6" stroke="#262626" stroke-width="1.5" />
</g>
<g transform="translate(-558 914.4)">
<path d="M917.5 136.8 C917.62 136.37 917.7 134.82 918.2 134.2 C918.7 133.58 919.2 133.35 920.5 133.1 C921.8 132.85 923.87 132.8 926 132.7 C928.13 132.6 930.42 132.47 933.3 132.5 C936.18 132.53 940.68 132.65 943.3 132.9 C945.92 133.15 947.18 133.6 949 134 C950.82 134.4 952.37 134.98 954.2 135.3 C956.03 135.62 958.2 135.72 960 135.9 C961.8 136.08 963.57 136.08 965 136.4 C966.43 136.72 967.63 137.17 968.6 137.8 C969.57 138.43 970.13 139.08 970.8 140.2 C971.47 141.32 972.03 143 972.6 144.5 C973.17 146 973.6 147.48 974.2 149.2 C974.8 150.92 975.5 153 976.2 154.8 C976.9 156.6 977.53 158.43 978.4 160 C979.27 161.57 980.3 162.95 981.4 164.2 C982.5 165.45 983.67 166.5 985 167.5 C986.33 168.5 987.87 169.38 989.4 170.2 C990.93 171.02 993.4 172.03 994.2 172.4" fill="none" stroke="#262626" stroke-width="1.2" stroke-linejoin="round" stroke-linecap="round" />
<path d="M917.5 136.8 C917.58 137.17 917.58 138.47 918 139 C918.42 139.53 918.9 139.77 920 140 C921.1 140.23 923.07 140.27 924.6 140.4 C926.13 140.53 927.7 140.6 929.2 140.8 C930.7 141 932.22 141.32 933.6 141.6 C934.98 141.88 936.27 142.17 937.5 142.5 C938.73 142.83 939.88 143.25 941 143.6 C942.12 143.95 943.13 144.43 944.2 144.6 C945.27 144.77 946.37 144.67 947.4 144.6 C948.43 144.53 949.9 144.27 950.4 144.2" fill="none" stroke="#262626" stroke-width="1.2" stroke-linejoin="round" stroke-linecap="round" />
<path d="M944.2 144.6 C943.83 144.93 942.57 145.83 942 146.6 C941.43 147.37 941 148.2 940.8 149.2 C940.6 150.2 940.67 151.5 940.8 152.6 C940.93 153.7 941.3 154.8 941.6 155.8 C941.9 156.8 942.3 157.77 942.6 158.6 C942.9 159.43 943.27 160.43 943.4 160.8" fill="none" stroke="#262626" stroke-width="1.2" stroke-linejoin="round" stroke-linecap="round" />
<path d="M949.8 163 C949.27 162.83 947.67 162.37 946.6 162 C945.53 161.63 944.83 161.17 943.4 160.8 C941.97 160.43 939.93 160.02 938 159.8 C936.07 159.58 933.33 159.37 931.8 159.5 C930.27 159.63 929.53 160.08 928.8 160.6 C928.07 161.12 927.53 161.93 927.4 162.6 C927.27 163.27 927.5 164.03 928 164.6 C928.5 165.17 929.47 165.57 930.4 166 C931.33 166.43 932.53 166.77 933.6 167.2 C934.67 167.63 935.8 167.97 936.8 168.6 C937.8 169.23 938.67 170.13 939.6 171 C940.53 171.87 941.47 172.97 942.4 173.8 C943.33 174.63 944.03 175.27 945.2 176 C946.37 176.73 947.9 177.53 949.4 178.2 C950.9 178.87 952.2 179.4 954.2 180 C956.2 180.6 958.9 181.23 961.4 181.8 C963.9 182.37 966.93 182.87 969.2 183.4 C971.47 183.93 973.07 184.3 975 185 C976.93 185.7 978.7 186.57 980.8 187.6 C982.9 188.63 985.37 189.9 987.6 191.2 C989.83 192.5 993.1 194.7 994.2 195.4" fill="none" stroke="#262626" stroke-width="1.2" stroke-linejoin="round" stroke-linecap="round" />
<path d="M949.2 155 C949.4 155.57 949.93 157.37 950.4 158.4 C950.87 159.43 951.37 160.37 952 161.2 C952.63 162.03 953.83 163.03 954.2 163.4" fill="none" stroke="#262626" stroke-width="1.1" stroke-linejoin="round" stroke-linecap="round" />
<path d="M957.4 154.6 C957.53 155.1 958.17 156.57 958.2 157.6 C958.23 158.63 958.03 159.7 957.6 160.8 C957.17 161.9 956.53 163.1 955.6 164.2 C954.67 165.3 952.6 166.87 952 167.4" fill="none" stroke="#262626" stroke-width="1.1" stroke-linejoin="round" stroke-linecap="round" />
<path d="M945 145.4 C945.7 145.63 947.77 146.27 949.2 146.8 C950.63 147.33 952.27 147.83 953.6 148.6 C954.93 149.37 956.6 150.93 957.2 151.4" fill="none" stroke="#262626" stroke-width="1" stroke-linejoin="round" stroke-linecap="round" />
<path d="M950.4 144.2 C950.77 143.9 952.13 142.83 952.6 142.4 C953.07 141.97 953.1 141.73 953.2 141.6" fill="none" stroke="#262626" stroke-width="1" stroke-linejoin="round" stroke-linecap="round" />
<line x1="928.6" y1="137.6" x2="929" y2="140.6" stroke="#262626" stroke-width="0.9" />
<line x1="939.8" y1="137.8" x2="938.2" y2="141.4" stroke="#262626" stroke-width="0.9" />
<line x1="946.6" y1="149.6" x2="950.4" y2="152.8" stroke="#262626" stroke-width="0.9" />
<line x1="950.8" y1="148.4" x2="947.2" y2="153.6" stroke="#262626" stroke-width="0.9" />
<line x1="951.6" y1="144.6" x2="954" y2="148" stroke="#262626" stroke-width="0.9" />
</g>
</g>
<path d="M349 980.5 L370.5 986 L368.5 988.5 C369.42 989.02 372.32 990.45 374 991.6 C375.68 992.75 377.1 993.9 378.6 995.4 C380.1 996.9 381.7 998.83 383 1000.6 C384.3 1002.37 385.43 1004.1 386.4 1006 C387.37 1007.9 388.27 1010 388.8 1012 C389.33 1014 389.53 1015.83 389.6 1018 C389.67 1020.17 389.77 1022.5 389.2 1025 C388.63 1027.5 387.48 1030.17 386.2 1033 C384.92 1035.83 382.28 1040.5 381.5 1042 L379.5 1034 L367.5 1039.5 C368.18 1038.82 370.45 1036.75 371.6 1035.4 C372.75 1034.05 373.53 1032.97 374.4 1031.4 C375.27 1029.83 376.17 1027.9 376.8 1026 C377.43 1024.1 377.97 1022.1 378.2 1020 C378.43 1017.9 378.47 1015.4 378.2 1013.4 C377.93 1011.4 377.37 1009.8 376.6 1008 C375.83 1006.2 374.77 1004.27 373.6 1002.6 C372.43 1000.93 371.03 999.43 369.6 998 C368.17 996.57 365.77 994.67 365 994 L362 998.5 Z" fill="#151515" stroke="#111" stroke-width="0.8" stroke-linejoin="round" stroke-linecap="round" />
<text transform="translate(292.4 1139.4) scale(0.675 1)" font-family="'Liberation Serif', serif" font-size="34" fill="#111">ON</text>
</svg>
</body>
</html>
